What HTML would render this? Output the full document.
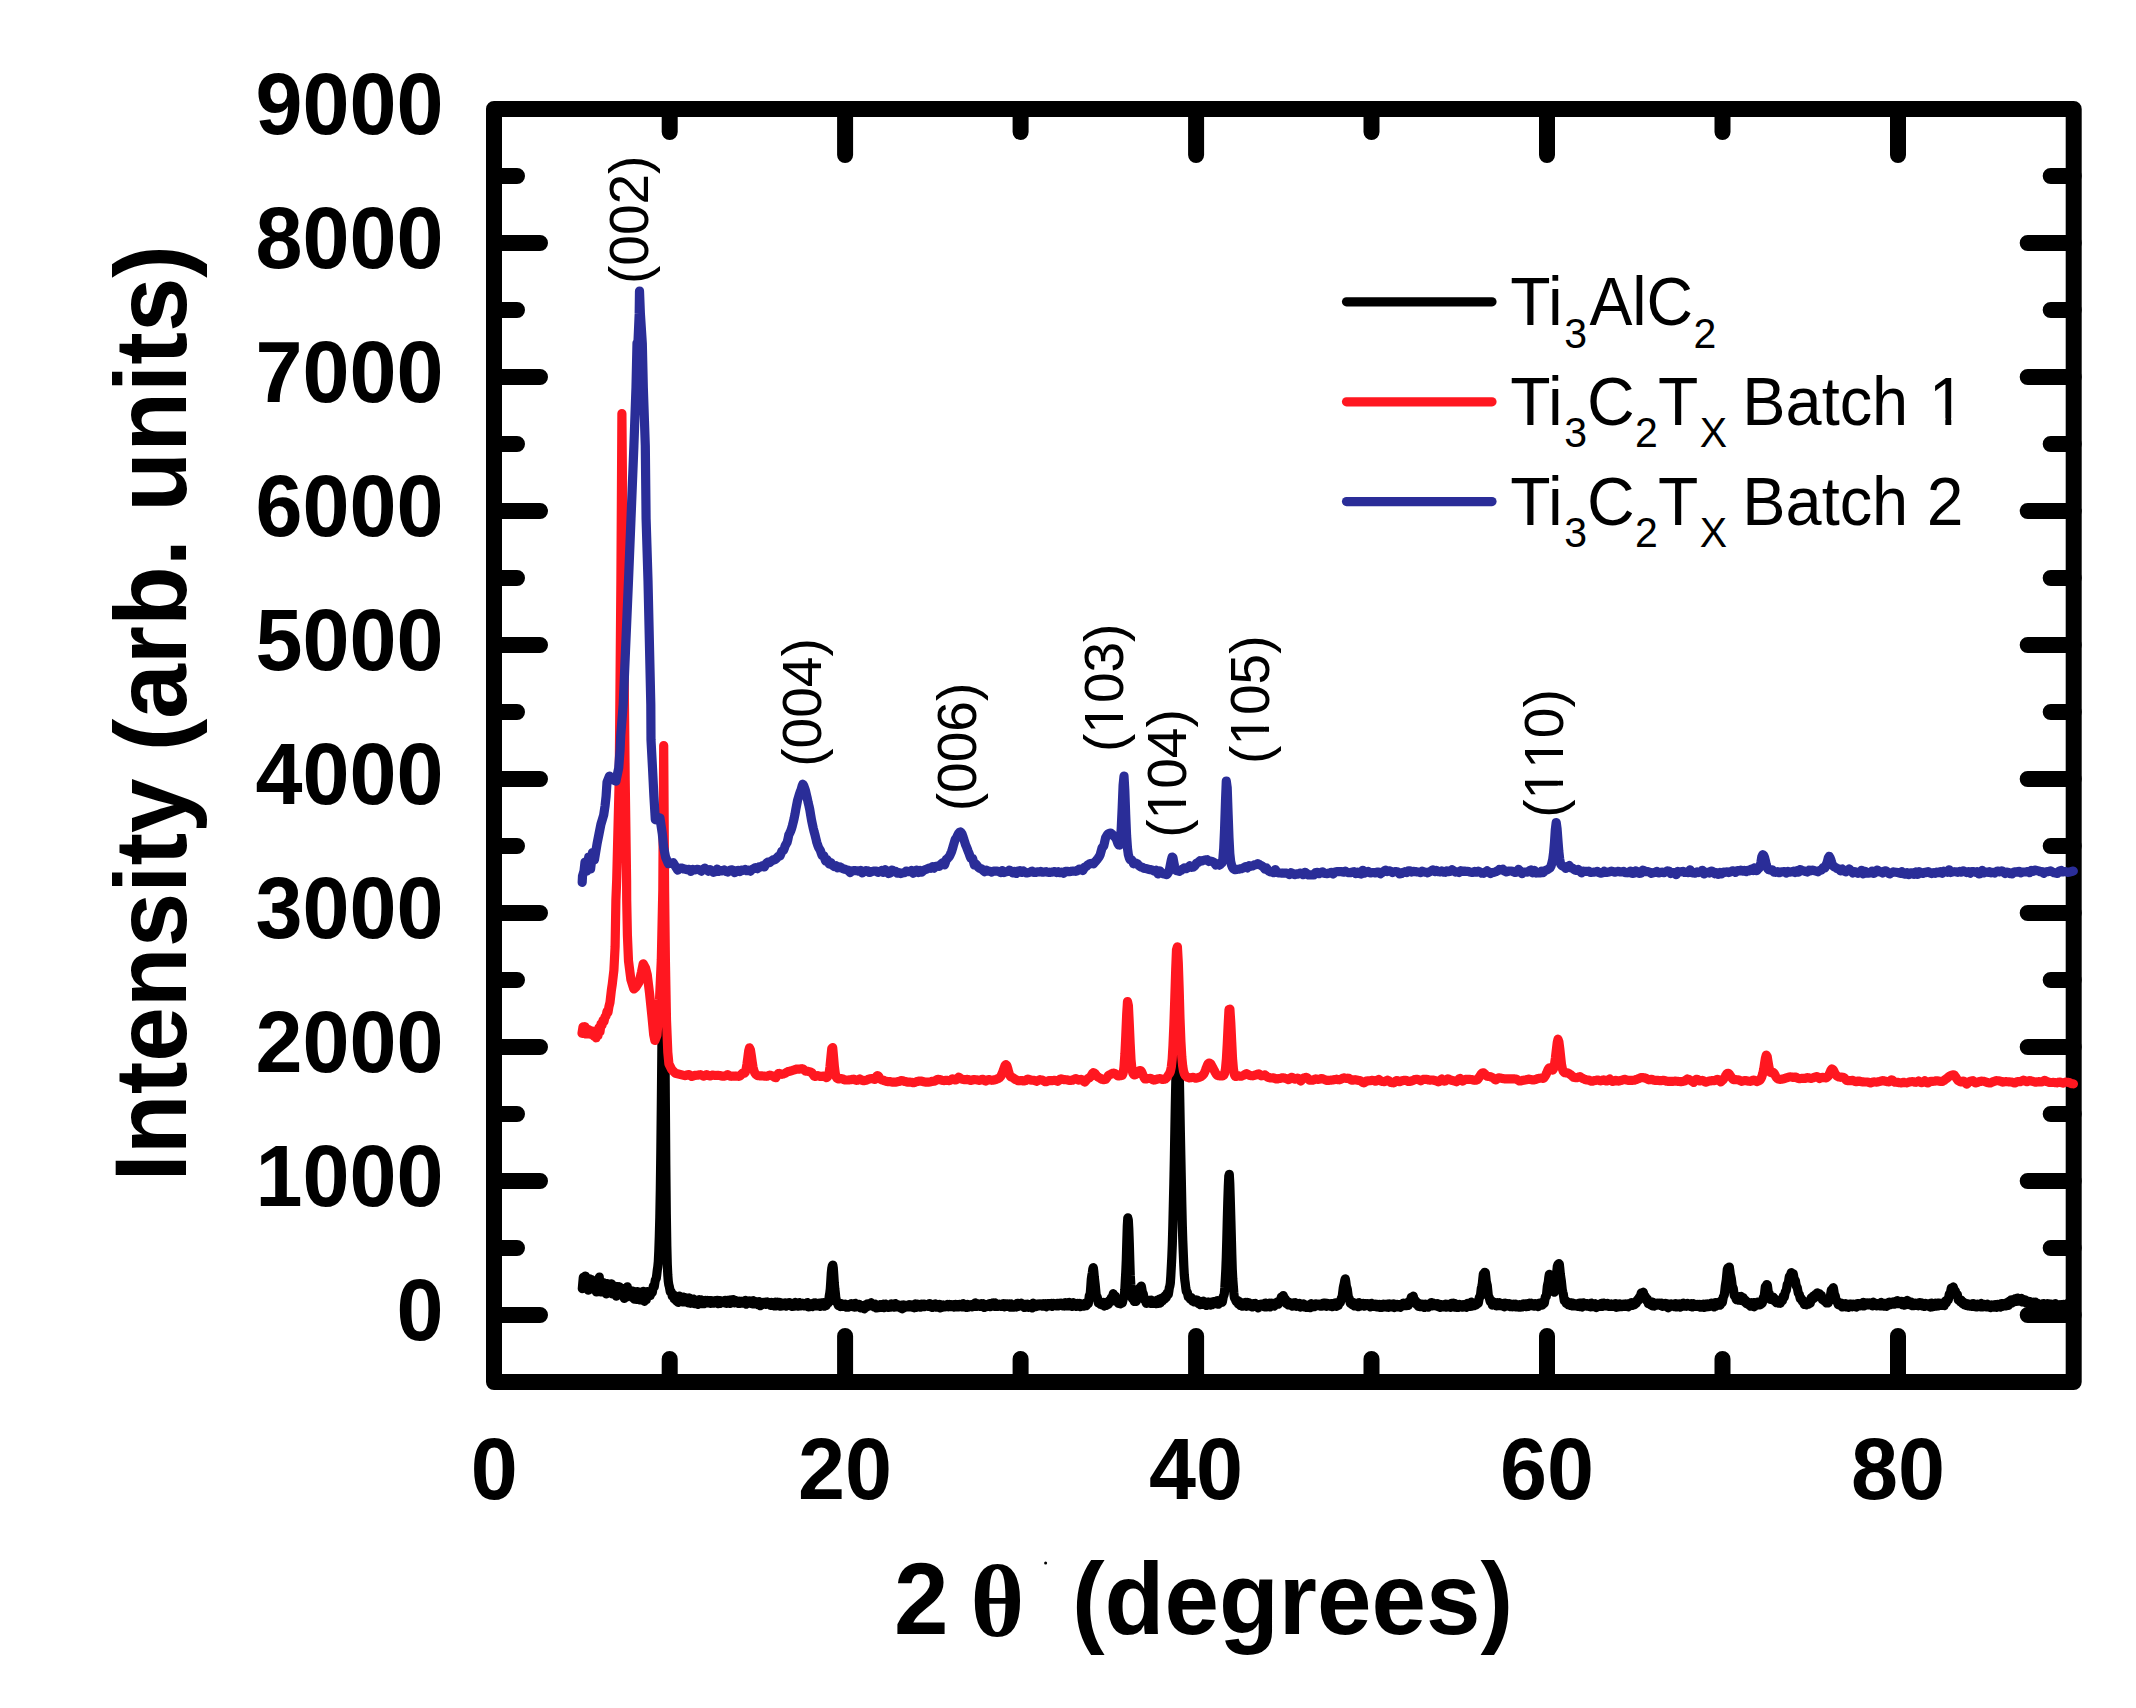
<!DOCTYPE html>
<html lang="en"><head><meta charset="utf-8"><title>XRD patterns</title>
<style>
html,body{margin:0;padding:0;background:#fff;}
body{width:2136px;height:1708px;overflow:hidden;}
svg{display:block;}
text{font-family:"Liberation Sans",Arial,Helvetica,sans-serif;fill:#000;}
.b{font-weight:bold;}
.tk{font-weight:bold;font-size:84.5px;}
.pk{font-size:55px;font-kerning:none;}
.lg{font-size:66px;}
.sub{font-size:41px;}
</style></head>
<body>
<svg width="2136" height="1708" viewBox="0 0 2136 1708">
<rect x="0" y="0" width="2136" height="1708" fill="#fff"/>
<!-- frame -->
<rect x="494" y="109" width="1579.7" height="1273" fill="none" stroke="#000" stroke-width="16" stroke-linejoin="round"/>
<!-- ticks -->
<path d="M669.7 1382 V1359 M669.7 109 V132 M845.1 1382 V1336 M845.1 109 V155 M1020.6 1382 V1359 M1020.6 109 V132 M1196.1 1382 V1336 M1196.1 109 V155 M1371.5 1382 V1359 M1371.5 109 V132 M1547.0 1382 V1336 M1547.0 109 V155 M1722.5 1382 V1359 M1722.5 109 V132 M1898.0 1382 V1336 M1898.0 109 V155 M494 1315.0 H540 M2073.7 1315.0 H2027.7 M494 1248.0 H517 M2073.7 1248.0 H2050.7 M494 1181.0 H540 M2073.7 1181.0 H2027.7 M494 1114.0 H517 M2073.7 1114.0 H2050.7 M494 1047.0 H540 M2073.7 1047.0 H2027.7 M494 980.0 H517 M2073.7 980.0 H2050.7 M494 913.0 H540 M2073.7 913.0 H2027.7 M494 846.0 H517 M2073.7 846.0 H2050.7 M494 779.0 H540 M2073.7 779.0 H2027.7 M494 712.0 H517 M2073.7 712.0 H2050.7 M494 645.0 H540 M2073.7 645.0 H2027.7 M494 578.0 H517 M2073.7 578.0 H2050.7 M494 511.0 H540 M2073.7 511.0 H2027.7 M494 444.0 H517 M2073.7 444.0 H2050.7 M494 377.0 H540 M2073.7 377.0 H2027.7 M494 310.0 H517 M2073.7 310.0 H2050.7 M494 243.0 H540 M2073.7 243.0 H2027.7 M494 176.0 H517 M2073.7 176.0 H2050.7" fill="none" stroke="#000" stroke-width="16" stroke-linecap="round"/>
<!-- data curves -->
<g fill="none" stroke-linejoin="round" stroke-linecap="round">
<path d="M582.3 1288.6L582.8 1283.0L583.3 1277.4L583.8 1282.4L584.3 1287.5L584.8 1281.8L585.3 1276.0L585.8 1282.0L586.3 1287.9L586.8 1284.0L587.3 1280.1L587.8 1285.1L588.3 1290.2L588.8 1284.5L589.3 1278.8L589.8 1281.9L590.3 1285.0L590.8 1282.3L591.3 1279.5L591.8 1284.2L592.3 1288.8L592.8 1285.4L593.3 1282.1L593.8 1284.7L594.3 1287.3L594.8 1284.7L595.3 1282.1L595.8 1287.0L596.3 1291.9L596.8 1287.3L597.3 1282.7L597.8 1287.0L598.3 1291.4L598.8 1284.3L599.3 1277.2L599.8 1284.6L600.3 1291.9L600.8 1286.9L601.3 1281.8L601.8 1286.9L602.3 1291.9L602.8 1287.2L603.3 1282.5L603.8 1287.3L604.3 1292.1L604.8 1289.0L605.3 1285.8L605.8 1289.8L606.3 1293.9L606.8 1288.8L607.3 1283.7L607.8 1287.8L608.3 1291.9L608.8 1289.1L609.3 1286.4L609.8 1289.1L610.3 1291.8L610.8 1287.8L611.3 1283.8L611.8 1288.9L612.3 1293.9L612.8 1289.7L613.3 1285.5L613.8 1290.0L614.3 1294.5L614.8 1290.4L615.3 1286.3L615.8 1291.2L616.3 1296.1L616.8 1291.4L617.3 1286.7L617.8 1290.3L618.3 1293.9L618.8 1290.3L619.3 1286.7L619.8 1290.1L620.3 1293.4L620.8 1291.4L621.3 1289.3L621.8 1292.2L622.3 1295.1L622.8 1291.8L623.3 1288.6L623.8 1293.5L624.3 1298.4L624.8 1293.5L625.3 1288.6L625.8 1292.8L626.3 1297.0L626.8 1292.0L627.3 1286.9L627.8 1290.1L628.3 1293.3L628.8 1291.6L629.3 1290.0L629.8 1293.0L630.3 1296.1L630.8 1293.9L631.3 1291.7L631.8 1294.5L632.3 1297.4L632.8 1294.3L633.3 1291.2L633.8 1295.2L634.3 1299.1L634.8 1295.7L635.3 1292.3L635.8 1295.8L636.3 1299.4L636.8 1295.4L637.3 1291.5L637.8 1295.1L638.3 1298.6L638.8 1295.3L639.3 1292.0L639.8 1296.0L640.3 1300.0L640.8 1297.0L641.3 1293.9L641.8 1296.6L642.3 1299.2L642.8 1295.2L643.3 1291.3L643.8 1296.3L644.3 1301.3L644.8 1296.7L645.3 1292.3L645.8 1296.1L646.3 1299.7L646.8 1295.6L647.3 1291.7L647.8 1293.4L648.3 1295.0L648.8 1293.2L649.3 1291.5L649.8 1293.7L650.3 1295.6L650.8 1293.2L651.3 1290.9L651.8 1291.8L652.3 1292.4L652.8 1289.3L653.3 1286.2L653.8 1286.5L654.3 1286.5L654.8 1283.3L655.3 1280.1L655.8 1279.3L656.3 1278.2L656.8 1274.4L657.3 1270.0L657.8 1266.8L658.3 1261.6L658.8 1251.2L659.3 1236.6L659.8 1217.6L660.3 1190.4L660.8 1153.0L661.3 1107.0L661.8 1055.5L662.3 1002.5L662.8 955.1L663.3 923.5L663.8 917.2L664.3 953.1L664.8 1021.1L665.3 1096.9L665.8 1163.8L666.3 1213.6L666.8 1245.6L667.3 1264.3L667.8 1275.1L668.3 1281.4L668.8 1284.7L669.3 1286.5L669.8 1289.2L670.3 1291.9L670.8 1292.2L671.3 1292.1L671.8 1294.0L672.3 1296.1L672.8 1295.5L673.3 1294.6L673.8 1296.7L674.3 1299.0L674.8 1297.8L675.3 1296.4L675.8 1298.6L676.3 1300.8L676.8 1299.3L677.3 1297.9L677.8 1300.1L678.3 1302.4L678.8 1299.2L679.3 1296.0L679.8 1298.7L680.3 1301.3L680.8 1299.2L681.3 1297.2L681.8 1299.5L682.3 1301.8L682.8 1299.4L683.3 1297.1L683.8 1299.4L684.3 1301.8L684.8 1299.7L685.3 1297.6L685.8 1299.5L686.3 1301.5L686.8 1299.7L687.3 1298.0L687.8 1300.5L688.3 1303.0L688.8 1300.5L689.3 1297.9L689.8 1300.6L690.3 1303.3L690.8 1301.2L691.3 1299.0L691.8 1300.6L692.3 1302.2L692.8 1300.6L693.3 1299.0L693.8 1301.3L694.3 1303.6L694.8 1301.9L695.3 1300.1L695.8 1302.0L696.3 1303.9L696.8 1302.3L697.3 1300.8L697.8 1302.6L698.3 1304.4L698.8 1302.0L699.3 1299.7L699.8 1301.4L700.3 1303.0L700.8 1301.4L701.3 1299.8L701.8 1301.8L702.3 1303.7L702.8 1302.3L703.3 1300.8L703.8 1302.2L704.3 1303.6L704.8 1302.0L705.3 1300.4L705.8 1301.7L706.3 1302.9L706.8 1301.6L707.3 1300.4L707.8 1301.7L708.3 1303.0L708.8 1301.7L709.3 1300.5L709.8 1302.0L710.3 1303.4L710.8 1301.9L711.3 1300.5L711.8 1301.8L712.3 1303.1L712.8 1302.3L713.3 1301.5L713.8 1302.3L714.3 1303.1L714.8 1301.8L715.3 1300.6L715.8 1301.7L716.3 1302.8L716.8 1301.5L717.3 1300.3L717.8 1301.9L718.3 1303.6L718.8 1302.1L719.3 1300.6L719.8 1301.9L720.3 1303.3L720.8 1302.1L721.3 1300.8L721.8 1301.5L722.3 1302.2L722.8 1301.7L723.3 1301.2L723.8 1302.0L724.3 1302.8L724.8 1301.6L725.3 1300.3L725.8 1301.8L726.3 1303.3L726.8 1301.8L727.3 1300.3L727.8 1301.5L728.3 1302.8L728.8 1301.5L729.3 1300.1L729.8 1301.7L730.3 1303.4L730.8 1301.6L731.3 1299.8L731.8 1301.0L732.3 1302.1L732.8 1300.8L733.3 1299.5L733.8 1301.2L734.3 1302.8L734.8 1301.6L735.3 1300.3L735.8 1301.5L736.3 1302.7L736.8 1302.0L737.3 1301.3L737.8 1302.4L738.3 1303.4L738.8 1302.2L739.3 1301.1L739.8 1302.2L740.3 1303.3L740.8 1302.4L741.3 1301.4L741.8 1302.3L742.3 1303.2L742.8 1302.1L743.3 1301.0L743.8 1302.0L744.3 1303.0L744.8 1301.7L745.3 1300.4L745.8 1302.3L746.3 1304.2L746.8 1302.8L747.3 1301.5L747.8 1302.1L748.3 1302.8L748.8 1301.9L749.3 1300.9L749.8 1302.1L750.3 1303.3L750.8 1302.2L751.3 1301.1L751.8 1302.5L752.3 1303.9L752.8 1302.3L753.3 1300.7L753.8 1302.4L754.3 1304.0L754.8 1302.8L755.3 1301.5L755.8 1302.7L756.3 1304.0L756.8 1302.9L757.3 1301.8L757.8 1303.3L758.3 1304.8L758.8 1303.3L759.3 1301.7L759.8 1303.7L760.3 1305.7L760.8 1304.3L761.3 1303.0L761.8 1303.8L762.3 1304.5L762.8 1303.5L763.3 1302.4L763.8 1303.1L764.3 1303.8L764.8 1303.0L765.3 1302.2L765.8 1303.3L766.3 1304.4L766.8 1303.1L767.3 1301.9L767.8 1303.1L768.3 1304.4L768.8 1303.6L769.3 1302.8L769.8 1304.1L770.3 1305.3L770.8 1303.9L771.3 1302.4L771.8 1303.9L772.3 1305.4L772.8 1304.2L773.3 1303.0L773.8 1304.5L774.3 1306.0L774.8 1304.0L775.3 1302.1L775.8 1304.0L776.3 1305.9L776.8 1304.1L777.3 1302.2L777.8 1303.7L778.3 1305.1L778.8 1303.8L779.3 1302.4L779.8 1304.3L780.3 1306.2L780.8 1304.6L781.3 1302.9L781.8 1304.4L782.3 1305.9L782.8 1304.7L783.3 1303.5L783.8 1304.5L784.3 1305.5L784.8 1304.1L785.3 1302.8L785.8 1304.5L786.3 1306.1L786.8 1304.6L787.3 1303.0L787.8 1304.0L788.3 1305.0L788.8 1303.7L789.3 1302.5L789.8 1304.1L790.3 1305.7L790.8 1304.8L791.3 1304.0L791.8 1305.2L792.3 1306.5L792.8 1304.8L793.3 1303.2L793.8 1304.7L794.3 1306.2L794.8 1304.3L795.3 1302.4L795.8 1304.1L796.3 1305.8L796.8 1304.4L797.3 1303.1L797.8 1304.6L798.3 1306.2L798.8 1304.4L799.3 1302.5L799.8 1304.3L800.3 1306.0L800.8 1304.6L801.3 1303.2L801.8 1304.4L802.3 1305.6L802.8 1304.5L803.3 1303.4L803.8 1304.7L804.3 1306.0L804.8 1305.0L805.3 1303.9L805.8 1305.0L806.3 1306.0L806.8 1304.2L807.3 1302.5L807.8 1304.7L808.3 1306.9L808.8 1305.6L809.3 1304.3L809.8 1305.4L810.3 1306.6L810.8 1305.3L811.3 1304.0L811.8 1305.3L812.3 1306.6L812.8 1304.9L813.3 1303.2L813.8 1304.3L814.3 1305.4L814.8 1304.1L815.3 1302.8L815.8 1304.4L816.3 1306.0L816.8 1304.9L817.3 1303.8L817.8 1304.5L818.3 1305.2L818.8 1304.2L819.3 1303.2L819.8 1304.8L820.3 1306.4L820.8 1304.7L821.3 1302.9L821.8 1304.1L822.3 1305.3L822.8 1304.0L823.3 1302.6L823.8 1304.4L824.3 1306.2L824.8 1304.7L825.3 1303.1L825.8 1304.3L826.3 1305.5L826.8 1303.9L827.3 1302.2L827.8 1302.8L828.3 1303.0L828.8 1300.0L829.3 1295.9L829.8 1293.1L830.3 1288.9L830.8 1281.1L831.3 1272.9L831.8 1268.2L832.3 1266.0L832.8 1265.1L833.3 1268.0L833.8 1275.4L834.3 1283.3L834.8 1288.6L835.3 1292.7L835.8 1297.9L836.3 1301.9L836.8 1302.1L837.3 1301.7L837.8 1303.7L838.3 1305.5L838.8 1304.9L839.3 1304.2L839.8 1305.4L840.3 1306.6L840.8 1305.2L841.3 1303.7L841.8 1305.1L842.3 1306.5L842.8 1305.4L843.3 1304.3L843.8 1305.3L844.3 1306.3L844.8 1305.2L845.3 1304.2L845.8 1305.7L846.3 1307.2L846.8 1305.9L847.3 1304.6L847.8 1305.9L848.3 1307.2L848.8 1305.8L849.3 1304.4L849.8 1305.2L850.3 1306.0L850.8 1304.8L851.3 1303.7L851.8 1305.2L852.3 1306.6L852.8 1305.5L853.3 1304.4L853.8 1305.7L854.3 1307.1L854.8 1305.2L855.3 1303.3L855.8 1305.1L856.3 1306.9L856.8 1305.8L857.3 1304.7L857.8 1305.6L858.3 1306.5L858.8 1305.4L859.3 1304.4L859.8 1306.1L860.3 1307.8L860.8 1306.6L861.3 1305.3L861.8 1306.5L862.3 1307.8L862.8 1306.9L863.3 1305.9L863.8 1307.4L864.3 1308.8L864.8 1306.9L865.3 1304.9L865.8 1306.0L866.3 1307.2L866.8 1305.6L867.3 1303.9L867.8 1305.1L868.3 1306.2L868.8 1304.9L869.3 1303.6L869.8 1304.4L870.3 1305.2L870.8 1304.0L871.3 1302.7L871.8 1304.3L872.3 1306.0L872.8 1305.2L873.3 1304.5L873.8 1305.8L874.3 1307.2L874.8 1305.7L875.3 1304.2L875.8 1306.1L876.3 1308.0L876.8 1306.4L877.3 1304.9L877.8 1306.2L878.3 1307.6L878.8 1306.3L879.3 1304.9L879.8 1306.1L880.3 1307.3L880.8 1305.9L881.3 1304.5L881.8 1306.0L882.3 1307.5L882.8 1305.8L883.3 1304.2L883.8 1305.9L884.3 1307.6L884.8 1305.8L885.3 1304.0L885.8 1305.5L886.3 1307.1L886.8 1306.3L887.3 1305.4L887.8 1306.4L888.3 1307.4L888.8 1306.1L889.3 1304.8L889.8 1306.0L890.3 1307.2L890.8 1305.5L891.3 1303.8L891.8 1305.3L892.3 1306.8L892.8 1305.5L893.3 1304.3L893.8 1305.7L894.3 1307.2L894.8 1305.3L895.3 1303.5L895.8 1305.2L896.3 1306.9L896.8 1305.7L897.3 1304.5L897.8 1305.8L898.3 1307.2L898.8 1306.4L899.3 1305.7L899.8 1306.8L900.3 1307.8L900.8 1306.5L901.3 1305.2L901.8 1307.0L902.3 1308.9L902.8 1306.9L903.3 1304.9L903.8 1306.3L904.3 1307.6L904.8 1306.5L905.3 1305.4L905.8 1306.2L906.3 1307.0L906.8 1306.0L907.3 1305.0L907.8 1305.9L908.3 1306.8L908.8 1305.7L909.3 1304.6L909.8 1305.8L910.3 1307.0L910.8 1306.0L911.3 1304.9L911.8 1306.0L912.3 1307.1L912.8 1306.2L913.3 1305.2L913.8 1306.5L914.3 1307.8L914.8 1305.8L915.3 1303.9L915.8 1305.6L916.3 1307.3L916.8 1305.8L917.3 1304.2L917.8 1305.6L918.3 1307.0L918.8 1305.9L919.3 1304.9L919.8 1306.1L920.3 1307.2L920.8 1305.7L921.3 1304.1L921.8 1305.4L922.3 1306.6L922.8 1305.3L923.3 1304.1L923.8 1305.4L924.3 1306.7L924.8 1305.5L925.3 1304.4L925.8 1305.3L926.3 1306.2L926.8 1305.3L927.3 1304.4L927.8 1305.4L928.3 1306.4L928.8 1305.1L929.3 1303.7L929.8 1305.2L930.3 1306.7L930.8 1305.5L931.3 1304.2L931.8 1305.8L932.3 1307.5L932.8 1305.9L933.3 1304.4L933.8 1305.7L934.3 1306.9L934.8 1305.4L935.3 1303.9L935.8 1305.5L936.3 1307.2L936.8 1305.9L937.3 1304.6L937.8 1305.9L938.3 1307.3L938.8 1305.8L939.3 1304.4L939.8 1306.2L940.3 1307.9L940.8 1306.3L941.3 1304.8L941.8 1306.1L942.3 1307.3L942.8 1306.1L943.3 1304.9L943.8 1305.9L944.3 1307.0L944.8 1306.1L945.3 1305.1L945.8 1305.9L946.3 1306.7L946.8 1305.6L947.3 1304.4L947.8 1305.6L948.3 1306.8L948.8 1305.6L949.3 1304.4L949.8 1305.6L950.3 1306.7L950.8 1305.6L951.3 1304.6L951.8 1305.3L952.3 1306.0L952.8 1305.4L953.3 1304.8L953.8 1306.0L954.3 1307.1L954.8 1305.7L955.3 1304.4L955.8 1305.6L956.3 1306.8L956.8 1305.7L957.3 1304.7L957.8 1305.8L958.3 1307.0L958.8 1305.7L959.3 1304.4L959.8 1305.4L960.3 1306.5L960.8 1305.5L961.3 1304.5L961.8 1305.7L962.3 1307.0L962.8 1305.3L963.3 1303.6L963.8 1305.3L964.3 1307.0L964.8 1305.7L965.3 1304.3L965.8 1305.9L966.3 1307.5L966.8 1305.9L967.3 1304.3L967.8 1305.7L968.3 1307.2L968.8 1306.0L969.3 1304.8L969.8 1305.5L970.3 1306.3L970.8 1305.5L971.3 1304.7L971.8 1305.8L972.3 1306.8L972.8 1305.5L973.3 1304.2L973.8 1304.9L974.3 1305.7L974.8 1304.3L975.3 1302.9L975.8 1304.7L976.3 1306.5L976.8 1305.0L977.3 1303.5L977.8 1304.5L978.3 1305.6L978.8 1304.8L979.3 1304.1L979.8 1305.3L980.3 1306.5L980.8 1305.1L981.3 1303.7L981.8 1304.9L982.3 1306.2L982.8 1305.0L983.3 1303.7L983.8 1305.6L984.3 1307.5L984.8 1305.9L985.3 1304.3L985.8 1305.5L986.3 1306.8L986.8 1305.6L987.3 1304.5L987.8 1305.3L988.3 1306.1L988.8 1304.9L989.3 1303.6L989.8 1305.2L990.3 1306.7L990.8 1305.0L991.3 1303.4L991.8 1304.5L992.3 1305.6L992.8 1304.2L993.3 1302.8L993.8 1304.6L994.3 1306.3L994.8 1304.6L995.3 1302.9L995.8 1304.6L996.3 1306.3L996.8 1305.2L997.3 1304.1L997.8 1305.2L998.3 1306.3L998.8 1305.3L999.3 1304.2L999.8 1305.2L1000.3 1306.3L1000.8 1305.2L1001.3 1304.2L1001.8 1305.4L1002.3 1306.5L1002.8 1305.0L1003.3 1303.5L1003.8 1305.1L1004.3 1306.8L1004.8 1305.5L1005.3 1304.1L1005.8 1305.3L1006.3 1306.4L1006.8 1305.1L1007.3 1303.8L1007.8 1305.1L1008.3 1306.5L1008.8 1305.2L1009.3 1303.9L1009.8 1305.5L1010.3 1307.2L1010.8 1305.5L1011.3 1303.8L1011.8 1305.5L1012.3 1307.2L1012.8 1305.9L1013.3 1304.7L1013.8 1305.9L1014.3 1307.1L1014.8 1305.9L1015.3 1304.7L1015.8 1305.9L1016.3 1307.1L1016.8 1305.2L1017.3 1303.3L1017.8 1304.8L1018.3 1306.4L1018.8 1305.1L1019.3 1303.7L1019.8 1304.3L1020.3 1304.9L1020.8 1304.1L1021.3 1303.2L1021.8 1304.6L1022.3 1306.0L1022.8 1305.1L1023.3 1304.1L1023.8 1305.8L1024.3 1307.5L1024.8 1305.9L1025.3 1304.4L1025.8 1305.7L1026.3 1307.1L1026.8 1305.6L1027.3 1304.1L1027.8 1305.7L1028.3 1307.3L1028.8 1306.0L1029.3 1304.6L1029.8 1305.6L1030.3 1306.6L1030.8 1305.9L1031.3 1305.3L1031.8 1306.7L1032.3 1308.0L1032.8 1305.6L1033.3 1303.2L1033.8 1304.8L1034.3 1306.5L1034.8 1305.4L1035.3 1304.4L1035.8 1305.5L1036.3 1306.6L1036.8 1305.4L1037.3 1304.2L1037.8 1305.1L1038.3 1306.0L1038.8 1305.0L1039.3 1303.9L1039.8 1304.7L1040.3 1305.5L1040.8 1304.8L1041.3 1304.0L1041.8 1305.1L1042.3 1306.2L1042.8 1304.9L1043.3 1303.7L1043.8 1304.5L1044.3 1305.4L1044.8 1304.5L1045.3 1303.6L1045.8 1305.2L1046.3 1306.8L1046.8 1305.1L1047.3 1303.5L1047.8 1304.7L1048.3 1305.9L1048.8 1304.9L1049.3 1303.9L1049.8 1304.9L1050.3 1305.9L1050.8 1304.7L1051.3 1303.4L1051.8 1305.0L1052.3 1306.5L1052.8 1304.9L1053.3 1303.4L1053.8 1304.5L1054.3 1305.6L1054.8 1304.8L1055.3 1304.1L1055.8 1305.0L1056.3 1305.9L1056.8 1304.6L1057.3 1303.3L1057.8 1304.6L1058.3 1306.0L1058.8 1304.6L1059.3 1303.3L1059.8 1304.3L1060.3 1305.4L1060.8 1304.2L1061.3 1303.1L1061.8 1304.4L1062.3 1305.8L1062.8 1304.7L1063.3 1303.6L1063.8 1304.9L1064.3 1306.1L1064.8 1304.3L1065.3 1302.6L1065.8 1304.3L1066.3 1306.0L1066.8 1304.4L1067.3 1302.9L1067.8 1304.4L1068.3 1305.9L1068.8 1304.2L1069.3 1302.4L1069.8 1304.1L1070.3 1305.9L1070.8 1304.4L1071.3 1303.0L1071.8 1304.7L1072.3 1306.4L1072.8 1304.6L1073.3 1302.7L1073.8 1304.4L1074.3 1306.0L1074.8 1304.8L1075.3 1303.5L1075.8 1305.0L1076.3 1306.5L1076.8 1304.9L1077.3 1303.4L1077.8 1304.7L1078.3 1306.1L1078.8 1304.8L1079.3 1303.4L1079.8 1305.1L1080.3 1306.7L1080.8 1305.2L1081.3 1303.8L1081.8 1304.9L1082.3 1306.1L1082.8 1305.0L1083.3 1303.9L1083.8 1305.0L1084.3 1306.1L1084.8 1304.7L1085.3 1303.2L1085.8 1304.5L1086.3 1305.7L1086.8 1304.1L1087.3 1302.4L1087.8 1303.2L1088.3 1303.6L1088.8 1300.0L1089.3 1295.7L1089.8 1294.9L1090.3 1293.1L1090.8 1286.4L1091.3 1279.1L1091.8 1275.7L1092.3 1273.1L1092.8 1269.0L1093.3 1267.6L1093.8 1271.5L1094.3 1277.1L1094.8 1281.4L1095.3 1285.6L1095.8 1291.2L1096.3 1295.9L1096.8 1297.0L1097.3 1297.3L1097.8 1300.3L1098.3 1302.9L1098.8 1302.2L1099.3 1301.3L1099.8 1302.9L1100.3 1304.3L1100.8 1303.5L1101.3 1302.8L1101.8 1303.9L1102.3 1305.1L1102.8 1303.7L1103.3 1302.4L1103.8 1304.2L1104.3 1306.1L1104.8 1304.3L1105.3 1302.5L1105.8 1304.0L1106.3 1305.4L1106.8 1304.1L1107.3 1302.8L1107.8 1303.5L1108.3 1304.2L1108.8 1302.4L1109.3 1300.5L1109.8 1301.3L1110.3 1301.9L1110.8 1299.8L1111.3 1297.7L1111.8 1298.0L1112.3 1298.3L1112.8 1295.9L1113.3 1293.7L1113.8 1295.6L1114.3 1297.9L1114.8 1296.8L1115.3 1295.9L1115.8 1298.7L1116.3 1301.4L1116.8 1300.4L1117.3 1299.4L1117.8 1301.4L1118.3 1303.3L1118.8 1302.2L1119.3 1301.0L1119.8 1302.5L1120.3 1303.9L1120.8 1302.1L1121.3 1300.2L1121.8 1301.7L1122.3 1303.0L1122.8 1300.8L1123.3 1298.1L1123.8 1297.8L1124.3 1296.2L1124.8 1289.7L1125.3 1280.4L1125.8 1271.6L1126.3 1259.6L1126.8 1242.0L1127.3 1225.7L1127.8 1217.9L1128.3 1220.1L1128.8 1229.0L1129.3 1242.7L1129.8 1260.3L1130.3 1275.7L1130.8 1284.3L1131.3 1289.8L1131.8 1295.0L1132.3 1298.4L1132.8 1298.9L1133.3 1298.8L1133.8 1300.2L1134.3 1301.4L1134.8 1300.6L1135.3 1299.5L1135.8 1300.6L1136.3 1301.3L1136.8 1299.1L1137.3 1296.5L1137.8 1295.9L1138.3 1295.0L1138.8 1291.7L1139.3 1288.3L1139.8 1287.9L1140.3 1288.1L1140.8 1286.5L1141.3 1286.1L1141.8 1288.7L1142.3 1291.8L1142.8 1293.0L1143.3 1293.9L1143.8 1297.0L1144.3 1299.7L1144.8 1300.1L1145.3 1300.1L1145.8 1301.8L1146.3 1303.3L1146.8 1302.3L1147.3 1301.1L1147.8 1302.0L1148.3 1302.9L1148.8 1301.6L1149.3 1300.3L1149.8 1301.8L1150.3 1303.3L1150.8 1301.7L1151.3 1300.1L1151.8 1301.7L1152.3 1303.3L1152.8 1302.1L1153.3 1300.9L1153.8 1302.1L1154.3 1303.3L1154.8 1302.1L1155.3 1300.8L1155.8 1302.2L1156.3 1303.7L1156.8 1301.9L1157.3 1300.1L1157.8 1301.8L1158.3 1303.4L1158.8 1301.3L1159.3 1299.2L1159.8 1301.2L1160.3 1303.1L1160.8 1300.7L1161.3 1298.3L1161.8 1299.6L1162.3 1300.9L1162.8 1299.1L1163.3 1297.4L1163.8 1298.3L1164.3 1299.2L1164.8 1297.4L1165.3 1295.5L1165.8 1296.6L1166.3 1297.6L1166.8 1295.3L1167.3 1292.9L1167.8 1293.8L1168.3 1294.4L1168.8 1291.5L1169.3 1287.9L1169.8 1286.2L1170.3 1283.4L1170.8 1276.2L1171.3 1266.9L1171.8 1257.3L1172.3 1244.7L1172.8 1227.0L1173.3 1206.1L1173.8 1184.8L1174.3 1161.0L1174.8 1133.2L1175.3 1105.3L1175.8 1081.5L1176.3 1061.3L1176.8 1043.8L1177.3 1033.4L1177.8 1034.0L1178.3 1042.7L1178.8 1056.0L1179.3 1075.0L1179.8 1101.0L1180.3 1129.0L1180.8 1154.5L1181.3 1178.9L1181.8 1203.5L1182.3 1225.1L1182.8 1241.0L1183.3 1253.7L1183.8 1265.6L1184.3 1274.8L1184.8 1280.1L1185.3 1283.7L1185.8 1288.0L1186.3 1291.3L1186.8 1292.0L1187.3 1292.2L1187.8 1294.7L1188.3 1296.9L1188.8 1296.7L1189.3 1296.3L1189.8 1297.8L1190.3 1299.2L1190.8 1298.4L1191.3 1297.5L1191.8 1299.3L1192.3 1301.0L1192.8 1300.2L1193.3 1299.3L1193.8 1300.7L1194.3 1302.0L1194.8 1301.0L1195.3 1299.9L1195.8 1300.8L1196.3 1301.7L1196.8 1300.9L1197.3 1300.1L1197.8 1301.7L1198.3 1303.4L1198.8 1302.3L1199.3 1301.2L1199.8 1302.9L1200.3 1304.6L1200.8 1303.1L1201.3 1301.6L1201.8 1302.9L1202.3 1304.3L1202.8 1302.7L1203.3 1301.1L1203.8 1302.6L1204.3 1304.0L1204.8 1303.0L1205.3 1302.0L1205.8 1303.7L1206.3 1305.5L1206.8 1303.7L1207.3 1302.0L1207.8 1303.3L1208.3 1304.5L1208.8 1303.4L1209.3 1302.3L1209.8 1303.7L1210.3 1305.1L1210.8 1303.6L1211.3 1302.0L1211.8 1303.3L1212.3 1304.6L1212.8 1303.1L1213.3 1301.5L1213.8 1302.6L1214.3 1303.7L1214.8 1302.5L1215.3 1301.4L1215.8 1302.6L1216.3 1303.8L1216.8 1302.2L1217.3 1300.6L1217.8 1302.4L1218.3 1304.2L1218.8 1302.5L1219.3 1300.8L1219.8 1301.8L1220.3 1302.8L1220.8 1301.5L1221.3 1300.2L1221.8 1301.3L1222.3 1302.2L1222.8 1299.5L1223.3 1296.4L1223.8 1295.7L1224.3 1293.8L1224.8 1287.8L1225.3 1279.2L1225.8 1269.9L1226.3 1257.2L1226.8 1239.2L1227.3 1219.2L1227.8 1201.5L1228.3 1186.7L1228.8 1176.0L1229.3 1174.4L1229.8 1183.7L1230.3 1200.0L1230.8 1217.5L1231.3 1235.4L1231.8 1254.0L1232.3 1269.6L1232.8 1279.2L1233.3 1285.7L1233.8 1292.4L1234.3 1297.3L1234.8 1298.6L1235.3 1299.0L1235.8 1300.5L1236.3 1301.6L1236.8 1301.0L1237.3 1300.3L1237.8 1302.1L1238.3 1303.9L1238.8 1302.7L1239.3 1301.5L1239.8 1303.5L1240.3 1305.5L1240.8 1304.0L1241.3 1302.6L1241.8 1304.4L1242.3 1306.2L1242.8 1304.8L1243.3 1303.4L1243.8 1304.3L1244.3 1305.2L1244.8 1303.8L1245.3 1302.4L1245.8 1304.4L1246.3 1306.3L1246.8 1304.4L1247.3 1302.4L1247.8 1304.1L1248.3 1305.9L1248.8 1304.4L1249.3 1302.8L1249.8 1304.5L1250.3 1306.2L1250.8 1304.9L1251.3 1303.7L1251.8 1305.3L1252.3 1307.0L1252.8 1305.3L1253.3 1303.6L1253.8 1304.9L1254.3 1306.3L1254.8 1304.8L1255.3 1303.3L1255.8 1305.0L1256.3 1306.7L1256.8 1305.5L1257.3 1304.3L1257.8 1306.1L1258.3 1307.9L1258.8 1306.5L1259.3 1305.1L1259.8 1305.8L1260.3 1306.4L1260.8 1305.2L1261.3 1304.0L1261.8 1305.0L1262.3 1306.1L1262.8 1305.1L1263.3 1304.1L1263.8 1305.4L1264.3 1306.8L1264.8 1304.9L1265.3 1303.0L1265.8 1305.0L1266.3 1307.0L1266.8 1305.4L1267.3 1303.8L1267.8 1304.9L1268.3 1306.0L1268.8 1304.5L1269.3 1303.1L1269.8 1305.0L1270.3 1307.0L1270.8 1305.0L1271.3 1303.1L1271.8 1304.2L1272.3 1305.4L1272.8 1304.3L1273.3 1303.3L1273.8 1304.7L1274.3 1306.1L1274.8 1304.6L1275.3 1303.2L1275.8 1303.9L1276.3 1304.5L1276.8 1303.2L1277.3 1301.9L1277.8 1303.1L1278.3 1304.2L1278.8 1302.6L1279.3 1300.8L1279.8 1301.6L1280.3 1302.2L1280.8 1299.7L1281.3 1297.2L1281.8 1297.7L1282.3 1298.5L1282.8 1296.7L1283.3 1295.5L1283.8 1297.2L1284.3 1299.2L1284.8 1299.1L1285.3 1298.9L1285.8 1301.3L1286.3 1303.5L1286.8 1302.4L1287.3 1301.3L1287.8 1303.2L1288.3 1305.0L1288.8 1303.9L1289.3 1302.8L1289.8 1304.0L1290.3 1305.3L1290.8 1304.2L1291.3 1303.2L1291.8 1304.6L1292.3 1306.1L1292.8 1304.5L1293.3 1302.9L1293.8 1304.4L1294.3 1305.8L1294.8 1304.2L1295.3 1302.6L1295.8 1304.5L1296.3 1306.4L1296.8 1305.1L1297.3 1303.9L1297.8 1305.0L1298.3 1306.1L1298.8 1304.7L1299.3 1303.4L1299.8 1305.3L1300.3 1307.1L1300.8 1305.7L1301.3 1304.4L1301.8 1305.5L1302.3 1306.6L1302.8 1305.3L1303.3 1303.9L1303.8 1305.4L1304.3 1307.0L1304.8 1306.1L1305.3 1305.2L1305.8 1306.4L1306.3 1307.5L1306.8 1306.4L1307.3 1305.3L1307.8 1306.4L1308.3 1307.5L1308.8 1306.3L1309.3 1305.0L1309.8 1306.4L1310.3 1307.7L1310.8 1305.7L1311.3 1303.7L1311.8 1305.3L1312.3 1306.8L1312.8 1305.6L1313.3 1304.3L1313.8 1305.5L1314.3 1306.7L1314.8 1305.3L1315.3 1303.9L1315.8 1304.6L1316.3 1305.2L1316.8 1304.7L1317.3 1304.1L1317.8 1304.9L1318.3 1305.6L1318.8 1305.0L1319.3 1304.4L1319.8 1305.3L1320.3 1306.2L1320.8 1305.0L1321.3 1303.8L1321.8 1304.9L1322.3 1306.1L1322.8 1304.6L1323.3 1303.0L1323.8 1304.5L1324.3 1306.0L1324.8 1304.6L1325.3 1303.2L1325.8 1304.7L1326.3 1306.3L1326.8 1304.8L1327.3 1303.3L1327.8 1304.5L1328.3 1305.6L1328.8 1304.8L1329.3 1303.9L1329.8 1305.1L1330.3 1306.2L1330.8 1304.9L1331.3 1303.5L1331.8 1305.0L1332.3 1306.6L1332.8 1305.0L1333.3 1303.4L1333.8 1304.8L1334.3 1306.1L1334.8 1304.5L1335.3 1302.8L1335.8 1304.6L1336.3 1306.3L1336.8 1304.5L1337.3 1302.7L1337.8 1304.1L1338.3 1305.5L1338.8 1303.7L1339.3 1301.8L1339.8 1302.3L1340.3 1302.5L1340.8 1300.6L1341.3 1298.4L1341.8 1297.4L1342.3 1295.9L1342.8 1291.9L1343.3 1287.6L1343.8 1285.2L1344.3 1283.1L1344.8 1280.3L1345.3 1278.9L1345.8 1281.8L1346.3 1285.9L1346.8 1287.5L1347.3 1289.3L1347.8 1293.1L1348.3 1296.6L1348.8 1298.0L1349.3 1298.8L1349.8 1301.2L1350.3 1303.2L1350.8 1302.8L1351.3 1302.2L1351.8 1303.6L1352.3 1304.8L1352.8 1303.6L1353.3 1302.4L1353.8 1304.2L1354.3 1305.9L1354.8 1304.6L1355.3 1303.4L1355.8 1304.8L1356.3 1306.2L1356.8 1304.7L1357.3 1303.2L1357.8 1304.9L1358.3 1306.7L1358.8 1304.7L1359.3 1302.7L1359.8 1304.5L1360.3 1306.2L1360.8 1304.9L1361.3 1303.6L1361.8 1304.5L1362.3 1305.4L1362.8 1304.3L1363.3 1303.3L1363.8 1304.7L1364.3 1306.2L1364.8 1304.9L1365.3 1303.6L1365.8 1304.6L1366.3 1305.7L1366.8 1304.6L1367.3 1303.5L1367.8 1304.5L1368.3 1305.6L1368.8 1304.7L1369.3 1303.9L1369.8 1305.4L1370.3 1306.9L1370.8 1305.1L1371.3 1303.3L1371.8 1304.6L1372.3 1306.0L1372.8 1305.0L1373.3 1304.0L1373.8 1305.2L1374.3 1306.4L1374.8 1305.3L1375.3 1304.2L1375.8 1305.5L1376.3 1306.9L1376.8 1305.6L1377.3 1304.3L1377.8 1305.7L1378.3 1307.1L1378.8 1305.7L1379.3 1304.4L1379.8 1305.9L1380.3 1307.5L1380.8 1306.2L1381.3 1304.9L1381.8 1306.1L1382.3 1307.3L1382.8 1305.7L1383.3 1304.1L1383.8 1305.6L1384.3 1307.0L1384.8 1305.7L1385.3 1304.4L1385.8 1305.8L1386.3 1307.2L1386.8 1305.7L1387.3 1304.2L1387.8 1305.7L1388.3 1307.3L1388.8 1305.5L1389.3 1303.8L1389.8 1305.3L1390.3 1306.9L1390.8 1305.8L1391.3 1304.6L1391.8 1305.8L1392.3 1307.0L1392.8 1305.4L1393.3 1303.9L1393.8 1305.7L1394.3 1307.6L1394.8 1306.0L1395.3 1304.4L1395.8 1305.5L1396.3 1306.7L1396.8 1305.5L1397.3 1304.4L1397.8 1305.7L1398.3 1307.0L1398.8 1305.8L1399.3 1304.6L1399.8 1306.0L1400.3 1307.4L1400.8 1305.8L1401.3 1304.3L1401.8 1305.1L1402.3 1305.9L1402.8 1304.5L1403.3 1303.1L1403.8 1304.3L1404.3 1305.6L1404.8 1304.3L1405.3 1303.0L1405.8 1304.4L1406.3 1305.7L1406.8 1304.2L1407.3 1302.6L1407.8 1304.1L1408.3 1305.4L1408.8 1303.3L1409.3 1301.0L1409.8 1302.0L1410.3 1302.8L1410.8 1300.1L1411.3 1297.3L1411.8 1297.9L1412.3 1298.8L1412.8 1297.2L1413.3 1296.2L1413.8 1298.4L1414.3 1300.9L1414.8 1300.6L1415.3 1300.4L1415.8 1302.4L1416.3 1304.2L1416.8 1303.4L1417.3 1302.4L1417.8 1304.4L1418.3 1306.3L1418.8 1305.0L1419.3 1303.7L1419.8 1305.2L1420.3 1306.7L1420.8 1305.4L1421.3 1304.1L1421.8 1305.3L1422.3 1306.4L1422.8 1305.3L1423.3 1304.3L1423.8 1305.9L1424.3 1307.5L1424.8 1305.8L1425.3 1304.1L1425.8 1305.2L1426.3 1306.4L1426.8 1305.6L1427.3 1304.9L1427.8 1306.0L1428.3 1307.2L1428.8 1305.5L1429.3 1303.8L1429.8 1304.9L1430.3 1306.1L1430.8 1304.4L1431.3 1302.6L1431.8 1304.2L1432.3 1305.8L1432.8 1304.4L1433.3 1303.0L1433.8 1304.2L1434.3 1305.5L1434.8 1304.8L1435.3 1304.1L1435.8 1305.1L1436.3 1306.0L1436.8 1304.8L1437.3 1303.6L1437.8 1305.2L1438.3 1306.7L1438.8 1305.5L1439.3 1304.2L1439.8 1305.8L1440.3 1307.4L1440.8 1306.0L1441.3 1304.5L1441.8 1305.8L1442.3 1307.0L1442.8 1306.2L1443.3 1305.4L1443.8 1306.1L1444.3 1306.8L1444.8 1305.4L1445.3 1304.1L1445.8 1305.6L1446.3 1307.1L1446.8 1305.7L1447.3 1304.3L1447.8 1305.4L1448.3 1306.5L1448.8 1305.5L1449.3 1304.5L1449.8 1305.9L1450.3 1307.3L1450.8 1305.4L1451.3 1303.4L1451.8 1304.8L1452.3 1306.3L1452.8 1304.7L1453.3 1303.1L1453.8 1305.1L1454.3 1307.1L1454.8 1305.4L1455.3 1303.7L1455.8 1305.5L1456.3 1307.3L1456.8 1306.0L1457.3 1304.7L1457.8 1306.0L1458.3 1307.4L1458.8 1305.9L1459.3 1304.4L1459.8 1305.2L1460.3 1306.0L1460.8 1305.5L1461.3 1305.0L1461.8 1306.1L1462.3 1307.1L1462.8 1305.8L1463.3 1304.6L1463.8 1305.8L1464.3 1307.0L1464.8 1305.8L1465.3 1304.5L1465.8 1305.9L1466.3 1307.3L1466.8 1305.3L1467.3 1303.4L1467.8 1304.7L1468.3 1306.0L1468.8 1304.9L1469.3 1303.7L1469.8 1305.1L1470.3 1306.5L1470.8 1304.3L1471.3 1302.1L1471.8 1304.1L1472.3 1306.1L1472.8 1304.6L1473.3 1303.0L1473.8 1304.4L1474.3 1305.7L1474.8 1304.5L1475.3 1303.4L1475.8 1304.1L1476.3 1304.8L1476.8 1303.3L1477.3 1301.7L1477.8 1302.6L1478.3 1303.3L1478.8 1300.5L1479.3 1297.4L1479.8 1297.1L1480.3 1296.5L1480.8 1292.7L1481.3 1288.4L1481.8 1286.3L1482.3 1283.9L1482.8 1279.0L1483.3 1274.4L1483.8 1273.4L1484.3 1273.6L1484.8 1272.3L1485.3 1272.5L1485.8 1276.8L1486.3 1281.7L1486.8 1283.7L1487.3 1285.7L1487.8 1290.8L1488.3 1295.5L1488.8 1296.8L1489.3 1297.7L1489.8 1299.9L1490.3 1301.7L1490.8 1301.2L1491.3 1300.5L1491.8 1302.9L1492.3 1305.1L1492.8 1303.6L1493.3 1302.0L1493.8 1303.4L1494.3 1304.8L1494.8 1303.8L1495.3 1302.9L1495.8 1304.3L1496.3 1305.8L1496.8 1304.2L1497.3 1302.7L1497.8 1304.2L1498.3 1305.7L1498.8 1304.2L1499.3 1302.6L1499.8 1304.2L1500.3 1305.7L1500.8 1304.6L1501.3 1303.5L1501.8 1304.7L1502.3 1306.0L1502.8 1304.7L1503.3 1303.4L1503.8 1305.1L1504.3 1306.8L1504.8 1305.0L1505.3 1303.1L1505.8 1304.7L1506.3 1306.2L1506.8 1304.9L1507.3 1303.6L1507.8 1304.6L1508.3 1305.6L1508.8 1304.6L1509.3 1303.6L1509.8 1305.1L1510.3 1306.7L1510.8 1305.6L1511.3 1304.4L1511.8 1305.6L1512.3 1306.8L1512.8 1305.5L1513.3 1304.2L1513.8 1305.4L1514.3 1306.5L1514.8 1305.3L1515.3 1304.1L1515.8 1305.6L1516.3 1307.0L1516.8 1305.7L1517.3 1304.5L1517.8 1305.8L1518.3 1307.2L1518.8 1305.9L1519.3 1304.6L1519.8 1305.9L1520.3 1307.2L1520.8 1306.0L1521.3 1304.9L1521.8 1305.9L1522.3 1306.9L1522.8 1305.4L1523.3 1303.9L1523.8 1304.9L1524.3 1305.9L1524.8 1304.8L1525.3 1303.8L1525.8 1305.2L1526.3 1306.7L1526.8 1305.2L1527.3 1303.7L1527.8 1305.1L1528.3 1306.5L1528.8 1304.8L1529.3 1303.2L1529.8 1304.4L1530.3 1305.6L1530.8 1304.4L1531.3 1303.2L1531.8 1304.5L1532.3 1305.8L1532.8 1305.0L1533.3 1304.2L1533.8 1305.2L1534.3 1306.2L1534.8 1304.9L1535.3 1303.5L1535.8 1304.5L1536.3 1305.5L1536.8 1304.9L1537.3 1304.3L1537.8 1305.5L1538.3 1306.6L1538.8 1304.8L1539.3 1303.1L1539.8 1304.2L1540.3 1305.3L1540.8 1304.1L1541.3 1302.9L1541.8 1304.0L1542.3 1305.1L1542.8 1303.3L1543.3 1301.5L1543.8 1302.5L1544.3 1303.3L1544.8 1300.3L1545.3 1297.0L1545.8 1297.0L1546.3 1296.5L1546.8 1291.6L1547.3 1286.4L1547.8 1284.1L1548.3 1281.9L1548.8 1277.5L1549.3 1274.4L1549.8 1276.3L1550.3 1279.6L1550.8 1281.1L1551.3 1283.0L1551.8 1286.8L1552.3 1290.1L1552.8 1290.9L1553.3 1290.8L1553.8 1292.0L1554.3 1292.2L1554.8 1288.2L1555.3 1283.4L1555.8 1280.5L1556.3 1277.3L1556.8 1271.6L1557.3 1266.4L1557.8 1264.9L1558.3 1264.9L1558.8 1263.6L1559.3 1264.0L1559.8 1268.5L1560.3 1273.9L1560.8 1277.3L1561.3 1280.7L1561.8 1285.5L1562.3 1289.9L1562.8 1292.3L1563.3 1294.0L1563.8 1297.6L1564.3 1300.7L1564.8 1300.6L1565.3 1300.2L1565.8 1302.0L1566.3 1303.5L1566.8 1302.7L1567.3 1301.8L1567.8 1303.3L1568.3 1304.8L1568.8 1303.6L1569.3 1302.5L1569.8 1303.9L1570.3 1305.4L1570.8 1304.2L1571.3 1302.9L1571.8 1304.4L1572.3 1305.9L1572.8 1304.5L1573.3 1303.2L1573.8 1304.5L1574.3 1305.9L1574.8 1305.3L1575.3 1304.6L1575.8 1305.3L1576.3 1306.1L1576.8 1304.8L1577.3 1303.6L1577.8 1305.1L1578.3 1306.5L1578.8 1304.8L1579.3 1303.0L1579.8 1304.8L1580.3 1306.7L1580.8 1304.9L1581.3 1303.1L1581.8 1305.1L1582.3 1307.1L1582.8 1305.0L1583.3 1302.8L1583.8 1304.3L1584.3 1305.8L1584.8 1304.5L1585.3 1303.3L1585.8 1304.8L1586.3 1306.2L1586.8 1305.0L1587.3 1303.7L1587.8 1305.0L1588.3 1306.3L1588.8 1305.2L1589.3 1304.1L1589.8 1305.5L1590.3 1306.9L1590.8 1305.0L1591.3 1303.0L1591.8 1304.9L1592.3 1306.7L1592.8 1305.5L1593.3 1304.3L1593.8 1305.3L1594.3 1306.3L1594.8 1305.0L1595.3 1303.7L1595.8 1305.7L1596.3 1307.6L1596.8 1306.1L1597.3 1304.6L1597.8 1305.1L1598.3 1305.5L1598.8 1305.0L1599.3 1304.4L1599.8 1305.4L1600.3 1306.4L1600.8 1304.9L1601.3 1303.4L1601.8 1304.9L1602.3 1306.3L1602.8 1304.7L1603.3 1303.0L1603.8 1304.5L1604.3 1306.0L1604.8 1305.0L1605.3 1303.9L1605.8 1304.9L1606.3 1306.0L1606.8 1304.7L1607.3 1303.4L1607.8 1304.9L1608.3 1306.3L1608.8 1305.4L1609.3 1304.4L1609.8 1305.3L1610.3 1306.3L1610.8 1305.1L1611.3 1303.9L1611.8 1305.2L1612.3 1306.4L1612.8 1305.4L1613.3 1304.3L1613.8 1305.4L1614.3 1306.5L1614.8 1305.1L1615.3 1303.6L1615.8 1305.5L1616.3 1307.4L1616.8 1305.7L1617.3 1304.0L1617.8 1305.5L1618.3 1307.0L1618.8 1305.4L1619.3 1303.8L1619.8 1305.3L1620.3 1306.7L1620.8 1305.5L1621.3 1304.3L1621.8 1305.5L1622.3 1306.6L1622.8 1305.4L1623.3 1304.2L1623.8 1305.4L1624.3 1306.5L1624.8 1305.2L1625.3 1303.8L1625.8 1305.1L1626.3 1306.3L1626.8 1305.1L1627.3 1303.9L1627.8 1305.3L1628.3 1306.8L1628.8 1305.1L1629.3 1303.5L1629.8 1304.5L1630.3 1305.5L1630.8 1304.1L1631.3 1302.7L1631.8 1304.1L1632.3 1305.4L1632.8 1304.0L1633.3 1302.7L1633.8 1303.7L1634.3 1304.8L1634.8 1303.3L1635.3 1301.8L1635.8 1302.6L1636.3 1303.3L1636.8 1301.8L1637.3 1300.1L1637.8 1300.2L1638.3 1300.3L1638.8 1298.8L1639.3 1297.2L1639.8 1297.1L1640.3 1297.0L1640.8 1294.9L1641.3 1292.9L1641.8 1293.8L1642.3 1295.0L1642.8 1293.4L1643.3 1292.2L1643.8 1294.1L1644.3 1296.1L1644.8 1296.1L1645.3 1296.2L1645.8 1298.2L1646.3 1300.3L1646.8 1299.6L1647.3 1298.8L1647.8 1301.2L1648.3 1303.6L1648.8 1302.6L1649.3 1301.6L1649.8 1303.2L1650.3 1304.7L1650.8 1303.3L1651.3 1301.9L1651.8 1303.9L1652.3 1305.8L1652.8 1304.1L1653.3 1302.4L1653.8 1304.3L1654.3 1306.1L1654.8 1304.9L1655.3 1303.8L1655.8 1304.5L1656.3 1305.2L1656.8 1304.1L1657.3 1303.0L1657.8 1304.0L1658.3 1305.0L1658.8 1304.1L1659.3 1303.2L1659.8 1304.3L1660.3 1305.4L1660.8 1304.2L1661.3 1303.0L1661.8 1304.7L1662.3 1306.3L1662.8 1305.1L1663.3 1303.9L1663.8 1305.0L1664.3 1306.2L1664.8 1304.8L1665.3 1303.4L1665.8 1304.7L1666.3 1306.1L1666.8 1304.9L1667.3 1303.8L1667.8 1305.8L1668.3 1307.8L1668.8 1306.2L1669.3 1304.5L1669.8 1305.3L1670.3 1306.1L1670.8 1305.0L1671.3 1303.9L1671.8 1305.0L1672.3 1306.2L1672.8 1305.5L1673.3 1304.8L1673.8 1305.7L1674.3 1306.7L1674.8 1305.2L1675.3 1303.7L1675.8 1305.3L1676.3 1307.0L1676.8 1305.5L1677.3 1304.1L1677.8 1305.3L1678.3 1306.6L1678.8 1305.2L1679.3 1303.8L1679.8 1305.5L1680.3 1307.1L1680.8 1305.4L1681.3 1303.8L1681.8 1305.0L1682.3 1306.3L1682.8 1304.7L1683.3 1303.1L1683.8 1304.6L1684.3 1306.2L1684.8 1305.1L1685.3 1304.1L1685.8 1305.2L1686.3 1306.3L1686.8 1304.8L1687.3 1303.4L1687.8 1304.7L1688.3 1305.9L1688.8 1305.2L1689.3 1304.4L1689.8 1305.5L1690.3 1306.5L1690.8 1305.1L1691.3 1303.6L1691.8 1305.3L1692.3 1307.0L1692.8 1305.3L1693.3 1303.6L1693.8 1305.0L1694.3 1306.3L1694.8 1305.4L1695.3 1304.5L1695.8 1305.4L1696.3 1306.3L1696.8 1305.3L1697.3 1304.3L1697.8 1305.4L1698.3 1306.6L1698.8 1305.4L1699.3 1304.3L1699.8 1305.7L1700.3 1307.2L1700.8 1306.0L1701.3 1304.9L1701.8 1306.0L1702.3 1307.1L1702.8 1305.7L1703.3 1304.2L1703.8 1305.8L1704.3 1307.4L1704.8 1305.8L1705.3 1304.1L1705.8 1305.6L1706.3 1307.0L1706.8 1305.5L1707.3 1303.9L1707.8 1305.3L1708.3 1306.6L1708.8 1305.3L1709.3 1304.0L1709.8 1305.1L1710.3 1306.3L1710.8 1304.7L1711.3 1303.1L1711.8 1304.6L1712.3 1306.1L1712.8 1304.6L1713.3 1303.0L1713.8 1305.0L1714.3 1307.0L1714.8 1304.8L1715.3 1302.5L1715.8 1304.2L1716.3 1306.0L1716.8 1304.6L1717.3 1303.3L1717.8 1304.3L1718.3 1305.2L1718.8 1303.7L1719.3 1302.2L1719.8 1303.6L1720.3 1305.1L1720.8 1302.9L1721.3 1300.6L1721.8 1301.8L1722.3 1302.7L1722.8 1300.0L1723.3 1296.9L1723.8 1296.2L1724.3 1294.9L1724.8 1290.7L1725.3 1286.1L1725.8 1283.1L1726.3 1279.9L1726.8 1274.5L1727.3 1269.5L1727.8 1268.2L1728.3 1268.3L1728.8 1267.2L1729.3 1267.0L1729.8 1270.4L1730.3 1274.4L1730.8 1276.4L1731.3 1278.6L1731.8 1282.6L1732.3 1286.5L1732.8 1287.6L1733.3 1288.5L1733.8 1292.3L1734.3 1295.7L1734.8 1296.1L1735.3 1296.2L1735.8 1298.1L1736.3 1299.6L1736.8 1298.9L1737.3 1298.0L1737.8 1299.1L1738.3 1300.1L1738.8 1298.3L1739.3 1296.5L1739.8 1298.4L1740.3 1300.4L1740.8 1298.3L1741.3 1296.4L1741.8 1298.2L1742.3 1300.1L1742.8 1298.9L1743.3 1297.8L1743.8 1299.8L1744.3 1301.7L1744.8 1300.8L1745.3 1299.9L1745.8 1301.8L1746.3 1303.6L1746.8 1302.7L1747.3 1301.8L1747.8 1303.3L1748.3 1304.7L1748.8 1303.9L1749.3 1303.1L1749.8 1304.6L1750.3 1306.1L1750.8 1304.4L1751.3 1302.7L1751.8 1304.2L1752.3 1305.7L1752.8 1304.1L1753.3 1302.5L1753.8 1304.6L1754.3 1306.8L1754.8 1305.1L1755.3 1303.4L1755.8 1304.1L1756.3 1304.8L1756.8 1303.5L1757.3 1302.2L1757.8 1303.6L1758.3 1305.0L1758.8 1303.5L1759.3 1302.1L1759.8 1303.5L1760.3 1304.8L1760.8 1303.3L1761.3 1301.6L1761.8 1302.5L1762.3 1303.2L1762.8 1300.7L1763.3 1297.8L1763.8 1297.0L1764.3 1295.7L1764.8 1291.4L1765.3 1286.9L1765.8 1285.8L1766.3 1285.8L1766.8 1284.6L1767.3 1284.8L1767.8 1288.4L1768.3 1292.4L1768.8 1293.3L1769.3 1293.7L1769.8 1296.9L1770.3 1299.4L1770.8 1298.3L1771.3 1296.8L1771.8 1298.0L1772.3 1299.2L1772.8 1298.0L1773.3 1297.0L1773.8 1298.8L1774.3 1300.8L1774.8 1299.9L1775.3 1299.1L1775.8 1300.9L1776.3 1302.6L1776.8 1302.0L1777.3 1301.3L1777.8 1302.2L1778.3 1303.1L1778.8 1301.9L1779.3 1300.6L1779.8 1302.0L1780.3 1303.3L1780.8 1301.8L1781.3 1300.1L1781.8 1300.6L1782.3 1300.9L1782.8 1298.6L1783.3 1296.1L1783.8 1296.7L1784.3 1297.2L1784.8 1294.7L1785.3 1292.0L1785.8 1291.2L1786.3 1290.2L1786.8 1287.2L1787.3 1284.2L1787.8 1283.7L1788.3 1283.3L1788.8 1279.9L1789.3 1276.6L1789.8 1276.1L1790.3 1275.8L1790.8 1274.0L1791.3 1272.6L1791.8 1273.8L1792.3 1275.4L1792.8 1274.5L1793.3 1273.9L1793.8 1276.9L1794.3 1280.0L1794.8 1280.2L1795.3 1280.4L1795.8 1283.2L1796.3 1285.9L1796.8 1286.9L1797.3 1287.9L1797.8 1290.5L1798.3 1293.0L1798.8 1293.8L1799.3 1294.5L1799.8 1296.7L1800.3 1298.7L1800.8 1298.7L1801.3 1298.6L1801.8 1300.0L1802.3 1301.3L1802.8 1301.1L1803.3 1300.8L1803.8 1302.6L1804.3 1304.4L1804.8 1303.2L1805.3 1302.0L1805.8 1303.4L1806.3 1304.8L1806.8 1303.4L1807.3 1301.9L1807.8 1303.1L1808.3 1304.2L1808.8 1302.7L1809.3 1301.1L1809.8 1302.1L1810.3 1303.1L1810.8 1300.4L1811.3 1297.7L1811.8 1298.7L1812.3 1299.6L1812.8 1297.8L1813.3 1296.0L1813.8 1297.0L1814.3 1298.1L1814.8 1296.3L1815.3 1294.5L1815.8 1295.1L1816.3 1295.8L1816.8 1294.3L1817.3 1292.9L1817.8 1294.3L1818.3 1295.9L1818.8 1294.7L1819.3 1293.7L1819.8 1295.1L1820.3 1296.7L1820.8 1296.0L1821.3 1295.4L1821.8 1297.4L1822.3 1299.5L1822.8 1299.1L1823.3 1298.7L1823.8 1299.9L1824.3 1301.1L1824.8 1300.4L1825.3 1299.7L1825.8 1301.4L1826.3 1303.0L1826.8 1301.5L1827.3 1299.9L1827.8 1301.5L1828.3 1302.9L1828.8 1300.5L1829.3 1297.8L1829.8 1297.5L1830.3 1296.9L1830.8 1293.5L1831.3 1290.1L1831.8 1289.7L1832.3 1290.1L1832.8 1288.4L1833.3 1287.7L1833.8 1290.6L1834.3 1293.8L1834.8 1295.0L1835.3 1296.1L1835.8 1298.8L1836.3 1301.1L1836.8 1301.4L1837.3 1301.4L1837.8 1303.2L1838.3 1304.7L1838.8 1303.6L1839.3 1302.4L1839.8 1304.0L1840.3 1305.5L1840.8 1304.3L1841.3 1303.0L1841.8 1305.0L1842.3 1307.0L1842.8 1305.8L1843.3 1304.6L1843.8 1305.6L1844.3 1306.5L1844.8 1305.1L1845.3 1303.7L1845.8 1305.3L1846.3 1307.0L1846.8 1305.8L1847.3 1304.6L1847.8 1306.0L1848.3 1307.4L1848.8 1305.7L1849.3 1304.0L1849.8 1305.1L1850.3 1306.2L1850.8 1305.2L1851.3 1304.2L1851.8 1305.5L1852.3 1306.8L1852.8 1305.4L1853.3 1304.0L1853.8 1305.0L1854.3 1306.0L1854.8 1305.2L1855.3 1304.4L1855.8 1305.8L1856.3 1307.2L1856.8 1305.3L1857.3 1303.5L1857.8 1304.7L1858.3 1305.9L1858.8 1304.8L1859.3 1303.7L1859.8 1304.8L1860.3 1305.9L1860.8 1304.8L1861.3 1303.6L1861.8 1304.7L1862.3 1305.8L1862.8 1304.1L1863.3 1302.4L1863.8 1304.1L1864.3 1305.8L1864.8 1304.3L1865.3 1302.9L1865.8 1303.8L1866.3 1304.8L1866.8 1303.9L1867.3 1302.9L1867.8 1303.9L1868.3 1304.9L1868.8 1303.9L1869.3 1302.8L1869.8 1303.8L1870.3 1304.8L1870.8 1303.9L1871.3 1302.9L1871.8 1304.4L1872.3 1305.8L1872.8 1304.0L1873.3 1302.1L1873.8 1303.7L1874.3 1305.4L1874.8 1304.2L1875.3 1303.1L1875.8 1304.5L1876.3 1305.9L1876.8 1304.8L1877.3 1303.7L1877.8 1304.7L1878.3 1305.7L1878.8 1304.7L1879.3 1303.7L1879.8 1304.8L1880.3 1305.9L1880.8 1304.1L1881.3 1302.4L1881.8 1304.1L1882.3 1305.8L1882.8 1304.4L1883.3 1303.0L1883.8 1304.5L1884.3 1306.1L1884.8 1304.9L1885.3 1303.6L1885.8 1305.0L1886.3 1306.4L1886.8 1304.7L1887.3 1302.9L1887.8 1304.1L1888.3 1305.3L1888.8 1303.7L1889.3 1302.1L1889.8 1303.4L1890.3 1304.7L1890.8 1303.6L1891.3 1302.5L1891.8 1303.3L1892.3 1304.0L1892.8 1302.9L1893.3 1301.8L1893.8 1303.0L1894.3 1304.2L1894.8 1303.0L1895.3 1301.9L1895.8 1302.8L1896.3 1303.6L1896.8 1302.2L1897.3 1300.7L1897.8 1302.2L1898.3 1303.7L1898.8 1302.9L1899.3 1302.1L1899.8 1302.8L1900.3 1303.5L1900.8 1302.4L1901.3 1301.3L1901.8 1303.0L1902.3 1304.7L1902.8 1303.4L1903.3 1302.1L1903.8 1303.6L1904.3 1305.1L1904.8 1303.2L1905.3 1301.3L1905.8 1303.0L1906.3 1304.7L1906.8 1302.6L1907.3 1300.4L1907.8 1302.2L1908.3 1304.0L1908.8 1303.0L1909.3 1302.0L1909.8 1303.5L1910.3 1305.0L1910.8 1303.6L1911.3 1302.2L1911.8 1303.9L1912.3 1305.6L1912.8 1304.4L1913.3 1303.2L1913.8 1304.4L1914.3 1305.6L1914.8 1304.3L1915.3 1303.0L1915.8 1304.2L1916.3 1305.4L1916.8 1304.3L1917.3 1303.1L1917.8 1304.5L1918.3 1305.8L1918.8 1304.2L1919.3 1302.6L1919.8 1303.9L1920.3 1305.1L1920.8 1304.0L1921.3 1302.8L1921.8 1304.3L1922.3 1305.9L1922.8 1305.0L1923.3 1304.1L1923.8 1305.3L1924.3 1306.5L1924.8 1304.9L1925.3 1303.4L1925.8 1304.7L1926.3 1306.0L1926.8 1305.1L1927.3 1304.1L1927.8 1305.2L1928.3 1306.2L1928.8 1304.8L1929.3 1303.5L1929.8 1305.3L1930.3 1307.1L1930.8 1305.1L1931.3 1303.0L1931.8 1305.0L1932.3 1306.9L1932.8 1305.9L1933.3 1304.9L1933.8 1305.6L1934.3 1306.3L1934.8 1304.7L1935.3 1303.1L1935.8 1304.6L1936.3 1306.1L1936.8 1304.6L1937.3 1303.0L1937.8 1304.5L1938.3 1306.0L1938.8 1304.6L1939.3 1303.2L1939.8 1304.3L1940.3 1305.4L1940.8 1304.5L1941.3 1303.6L1941.8 1304.5L1942.3 1305.5L1942.8 1304.2L1943.3 1303.0L1943.8 1304.3L1944.3 1305.6L1944.8 1303.3L1945.3 1301.0L1945.8 1302.1L1946.3 1303.0L1946.8 1301.3L1947.3 1299.4L1947.8 1299.7L1948.3 1299.8L1948.8 1297.0L1949.3 1294.1L1949.8 1293.7L1950.3 1293.3L1950.8 1290.6L1951.3 1288.1L1951.8 1288.6L1952.3 1289.6L1952.8 1288.1L1953.3 1286.9L1953.8 1289.1L1954.3 1291.5L1954.8 1291.2L1955.3 1291.0L1955.8 1293.2L1956.3 1295.5L1956.8 1294.9L1957.3 1294.4L1957.8 1297.2L1958.3 1300.0L1958.8 1299.6L1959.3 1299.1L1959.8 1300.5L1960.3 1301.8L1960.8 1301.0L1961.3 1300.0L1961.8 1301.7L1962.3 1303.4L1962.8 1302.7L1963.3 1302.0L1963.8 1303.4L1964.3 1304.8L1964.8 1303.9L1965.3 1303.0L1965.8 1304.3L1966.3 1305.5L1966.8 1304.5L1967.3 1303.6L1967.8 1304.8L1968.3 1306.0L1968.8 1305.1L1969.3 1304.1L1969.8 1305.1L1970.3 1306.2L1970.8 1305.1L1971.3 1304.0L1971.8 1305.2L1972.3 1306.4L1972.8 1305.1L1973.3 1303.7L1973.8 1305.2L1974.3 1306.6L1974.8 1306.1L1975.3 1305.5L1975.8 1306.2L1976.3 1306.9L1976.8 1305.6L1977.3 1304.2L1977.8 1305.4L1978.3 1306.6L1978.8 1305.4L1979.3 1304.2L1979.8 1305.6L1980.3 1306.9L1980.8 1305.2L1981.3 1303.4L1981.8 1305.2L1982.3 1307.0L1982.8 1305.6L1983.3 1304.1L1983.8 1305.3L1984.3 1306.6L1984.8 1305.8L1985.3 1305.0L1985.8 1306.0L1986.3 1306.9L1986.8 1305.5L1987.3 1304.0L1987.8 1305.5L1988.3 1306.9L1988.8 1305.9L1989.3 1304.9L1989.8 1306.3L1990.3 1307.6L1990.8 1306.2L1991.3 1304.8L1991.8 1306.0L1992.3 1307.1L1992.8 1306.1L1993.3 1305.1L1993.8 1306.1L1994.3 1307.1L1994.8 1305.8L1995.3 1304.5L1995.8 1306.0L1996.3 1307.4L1996.8 1305.8L1997.3 1304.3L1997.8 1305.5L1998.3 1306.6L1998.8 1305.5L1999.3 1304.4L1999.8 1305.7L2000.3 1307.1L2000.8 1305.3L2001.3 1303.5L2001.8 1305.0L2002.3 1306.5L2002.8 1305.1L2003.3 1303.7L2003.8 1304.9L2004.3 1306.0L2004.8 1304.8L2005.3 1303.5L2005.8 1304.7L2006.3 1305.8L2006.8 1304.1L2007.3 1302.4L2007.8 1303.8L2008.3 1305.3L2008.8 1303.3L2009.3 1301.2L2009.8 1302.5L2010.3 1303.8L2010.8 1301.8L2011.3 1299.8L2011.8 1301.4L2012.3 1302.9L2012.8 1301.3L2013.3 1299.6L2013.8 1300.7L2014.3 1301.7L2014.8 1300.1L2015.3 1298.6L2015.8 1299.9L2016.3 1301.3L2016.8 1299.7L2017.3 1298.0L2017.8 1299.5L2018.3 1301.1L2018.8 1300.1L2019.3 1299.1L2019.8 1300.0L2020.3 1301.0L2020.8 1299.7L2021.3 1298.4L2021.8 1300.2L2022.3 1301.9L2022.8 1300.7L2023.3 1299.6L2023.8 1300.9L2024.3 1302.2L2024.8 1301.0L2025.3 1299.9L2025.8 1301.4L2026.3 1303.0L2026.8 1301.9L2027.3 1300.9L2027.8 1302.4L2028.3 1303.8L2028.8 1302.5L2029.3 1301.3L2029.8 1302.9L2030.3 1304.5L2030.8 1303.9L2031.3 1303.3L2031.8 1304.0L2032.3 1304.7L2032.8 1303.5L2033.3 1302.2L2033.8 1303.2L2034.3 1304.2L2034.8 1303.1L2035.3 1302.0L2035.8 1303.6L2036.3 1305.1L2036.8 1304.1L2037.3 1303.1L2037.8 1304.3L2038.3 1305.5L2038.8 1304.8L2039.3 1304.1L2039.8 1305.9L2040.3 1307.7L2040.8 1306.1L2041.3 1304.5L2041.8 1306.2L2042.3 1307.8L2042.8 1305.7L2043.3 1303.5L2043.8 1305.5L2044.3 1307.5L2044.8 1305.7L2045.3 1304.0L2045.8 1305.5L2046.3 1306.9L2046.8 1305.3L2047.3 1303.7L2047.8 1305.0L2048.3 1306.4L2048.8 1305.1L2049.3 1303.9L2049.8 1304.9L2050.3 1306.0L2050.8 1305.0L2051.3 1304.0L2051.8 1305.4L2052.3 1306.8L2052.8 1305.7L2053.3 1304.5L2053.8 1305.5L2054.3 1306.5L2054.8 1305.1L2055.3 1303.7L2055.8 1305.2L2056.3 1306.6L2056.8 1305.8L2057.3 1305.0L2057.8 1306.5L2058.3 1308.0L2058.8 1306.5L2059.3 1304.9L2059.8 1305.9L2060.3 1306.8L2060.8 1305.7L2061.3 1304.5L2061.8 1306.0L2062.3 1307.4L2062.8 1305.9L2063.3 1304.4L2063.8 1305.5L2064.3 1306.5L2064.8 1305.5L2065.3 1304.6L2065.8 1305.9L2066.3 1307.3L2066.8 1305.4L2067.3 1303.6L2067.8 1305.2L2068.3 1306.8L2068.8 1305.6L2069.3 1304.4L2069.8 1305.1L2070.3 1305.9L2070.8 1304.8L2071.3 1303.7L2071.8 1305.3L2072.3 1306.8L2072.8 1305.6L2073.3 1304.4" stroke="#000" stroke-width="9.2"/>
<path d="M582.0 1033.3L583.0 1026.9L584.0 1033.0L585.0 1026.7L586.0 1034.0L587.0 1028.7L588.0 1033.9L589.0 1029.8L590.0 1034.2L591.0 1030.9L592.0 1033.9L593.0 1031.2L594.0 1036.1L595.0 1032.0L596.0 1037.8L597.0 1030.3L598.0 1035.4L599.0 1027.6L600.0 1031.6L601.0 1023.9L602.0 1025.3L603.0 1020.3L604.0 1021.5L605.0 1017.1L606.0 1016.1L607.0 1011.4L608.0 1012.3L609.0 1006.3L610.0 1002.3L611.4 990.0L612.3 984.0L613.9 970.3L615.1 946.8L615.9 900.0L616.7 880.0L619.2 780.0L620.9 580.0L621.9 413.6L623.3 580.0L625.2 780.0L626.6 880.0L626.7 900.0L627.4 935.1L628.5 960.9L630.9 979.6L633.8 989.0L636.0 987.0L639.1 982.0L641.5 972.0L643.2 963.8L645.5 968.0L647.3 975.0L649.6 993.7L652.0 1017.1L653.7 1034.7L654.9 1040.5L657.0 1035.0L659.5 1000.0L661.3 960.0L662.8 890.0L663.7 745.6L664.6 890.0L665.4 960.0L666.5 1020.0L667.8 1052.2L668.9 1063.9L671.9 1069.8L675.4 1073.3L684.8 1075.6L685.7 1075.5L686.5 1075.2L687.4 1074.8L688.3 1074.5L689.2 1074.7L690.0 1075.3L690.9 1075.9L691.8 1076.4L692.7 1076.1L693.5 1075.8L694.4 1075.5L695.3 1075.3L696.2 1075.3L697.0 1075.2L697.9 1075.1L698.8 1075.0L699.7 1074.8L700.5 1074.7L701.4 1075.1L702.3 1075.6L703.2 1076.1L704.0 1076.1L704.9 1075.6L705.8 1075.1L706.7 1074.6L707.5 1075.0L708.4 1075.5L709.3 1075.9L710.2 1075.9L711.0 1075.6L711.9 1075.3L712.8 1075.1L713.7 1075.2L714.5 1075.4L715.4 1075.5L716.3 1075.5L717.2 1075.4L718.0 1075.4L718.9 1075.4L719.8 1075.6L720.7 1075.8L721.5 1076.0L722.4 1076.1L723.3 1076.1L724.2 1076.1L725.0 1076.0L725.9 1075.5L726.8 1075.1L727.7 1074.6L728.5 1075.1L729.4 1075.7L730.3 1076.2L731.2 1076.3L732.0 1076.2L732.9 1076.1L733.8 1076.1L734.7 1076.1L735.5 1076.2L736.4 1076.2L737.3 1076.2L738.2 1076.3L739.0 1076.3L739.9 1076.1L740.8 1075.2L741.7 1074.2L742.5 1073.2L743.4 1073.3L744.3 1073.2L745.2 1072.4L746.0 1069.7L746.9 1064.4L747.8 1057.8L748.7 1050.9L749.5 1047.8L750.4 1049.8L751.3 1055.5L752.2 1061.8L753.0 1067.0L753.9 1070.6L754.8 1072.9L755.7 1074.2L756.5 1074.9L757.4 1075.5L758.3 1075.7L759.2 1075.8L760.0 1075.8L760.9 1075.9L761.8 1075.9L762.7 1076.0L763.5 1076.0L764.4 1076.1L765.3 1076.2L766.2 1076.3L767.0 1076.2L767.9 1075.8L768.8 1075.5L769.7 1075.1L770.5 1075.3L771.4 1075.6L772.3 1075.9L773.2 1076.3L774.0 1076.9L774.9 1077.4L775.8 1077.7L776.7 1076.3L777.5 1075.0L778.4 1073.6L779.3 1073.4L780.2 1073.8L781.0 1074.1L781.9 1074.3L782.8 1074.1L783.7 1073.8L784.5 1073.5L785.4 1073.1L786.3 1072.5L787.2 1072.0L788.0 1071.6L788.9 1071.4L789.8 1071.2L790.7 1071.0L791.5 1070.7L792.4 1070.5L793.3 1070.2L794.2 1069.9L795.0 1069.6L795.9 1069.3L796.8 1069.1L797.7 1069.1L798.5 1069.0L799.4 1069.1L800.3 1069.0L801.2 1068.8L802.0 1068.7L802.9 1068.9L803.8 1069.6L804.7 1070.3L805.5 1071.0L806.4 1071.2L807.3 1071.3L808.2 1071.4L809.0 1071.6L809.9 1071.9L810.8 1072.2L811.7 1072.5L812.5 1073.8L813.4 1075.0L814.3 1076.2L815.2 1076.5L816.0 1076.2L816.9 1075.9L817.8 1075.7L818.7 1076.0L819.5 1076.3L820.4 1076.5L821.3 1076.5L822.2 1076.3L823.0 1076.0L823.9 1076.0L824.8 1076.6L825.7 1077.2L826.5 1077.6L827.4 1077.0L828.3 1075.6L829.2 1072.5L830.0 1066.5L830.9 1057.3L831.8 1048.3L832.7 1047.6L833.5 1056.5L834.4 1066.7L835.3 1073.5L836.2 1076.9L837.0 1078.1L837.9 1078.7L838.8 1078.9L839.7 1078.9L840.5 1078.7L841.4 1078.5L842.3 1078.8L843.2 1079.2L844.0 1079.6L844.9 1079.9L845.8 1080.0L846.7 1080.0L847.5 1080.0L848.4 1080.0L849.3 1079.9L850.2 1079.8L851.0 1079.7L851.9 1079.5L852.8 1079.3L853.7 1079.2L854.5 1079.6L855.4 1080.0L856.3 1080.4L857.2 1080.3L858.0 1079.8L858.9 1079.4L859.8 1079.0L860.7 1079.5L861.5 1080.0L862.4 1080.5L863.3 1080.6L864.2 1080.6L865.0 1080.5L865.9 1080.3L866.8 1080.0L867.7 1079.6L868.5 1079.2L869.4 1079.0L870.3 1078.8L871.2 1078.5L872.0 1078.5L872.9 1078.8L873.8 1079.1L874.7 1079.4L875.5 1077.9L876.4 1076.6L877.3 1075.6L878.2 1075.9L879.0 1077.1L879.9 1078.3L880.8 1079.4L881.7 1079.8L882.5 1080.1L883.4 1080.3L884.3 1080.7L885.2 1081.0L886.0 1081.3L886.9 1081.5L887.8 1081.6L888.7 1081.6L889.5 1081.6L890.4 1081.8L891.3 1081.9L892.2 1082.1L893.0 1082.2L893.9 1082.2L894.8 1082.1L895.7 1082.1L896.5 1082.0L897.4 1081.8L898.3 1081.6L899.2 1081.4L900.0 1081.0L900.9 1080.7L901.8 1080.5L902.7 1080.8L903.5 1081.0L904.4 1081.3L905.3 1081.6L906.2 1081.8L907.0 1082.0L907.9 1082.2L908.8 1082.2L909.7 1082.2L910.5 1082.2L911.4 1082.3L912.3 1082.5L913.2 1082.7L914.0 1082.6L914.9 1082.3L915.8 1082.0L916.7 1081.7L917.5 1081.4L918.4 1081.2L919.3 1081.0L920.2 1081.0L921.0 1081.1L921.9 1081.3L922.8 1081.5L923.7 1081.7L924.5 1081.9L925.4 1082.1L926.3 1082.2L927.2 1082.2L928.0 1082.2L928.9 1082.1L929.8 1081.9L930.7 1081.7L931.5 1081.5L932.4 1081.3L933.3 1081.3L934.2 1081.2L935.0 1080.9L935.9 1080.3L936.8 1079.8L937.7 1079.3L938.5 1079.5L939.4 1079.6L940.3 1079.8L941.2 1080.0L942.0 1080.2L942.9 1080.4L943.8 1080.6L944.7 1080.5L945.5 1080.4L946.4 1080.3L947.3 1080.4L948.2 1080.5L949.0 1080.6L949.9 1080.5L950.8 1079.9L951.7 1079.4L952.5 1078.8L953.4 1079.1L954.3 1079.5L955.2 1080.0L956.0 1079.8L956.9 1079.0L957.8 1078.1L958.7 1077.2L959.5 1077.7L960.4 1078.3L961.3 1078.9L962.2 1079.2L963.0 1079.4L963.9 1079.5L964.8 1079.7L965.7 1079.6L966.5 1079.5L967.4 1079.4L968.3 1079.6L969.2 1079.9L970.0 1080.2L970.9 1080.4L971.8 1080.1L972.7 1079.9L973.5 1079.6L974.4 1079.7L975.3 1079.7L976.2 1079.8L977.0 1079.9L977.9 1080.1L978.8 1080.3L979.7 1080.5L980.5 1080.1L981.4 1079.7L982.3 1079.3L983.2 1079.5L984.0 1080.1L984.9 1080.7L985.8 1081.1L986.7 1080.6L987.5 1080.0L988.4 1079.5L989.3 1079.6L990.2 1079.9L991.0 1080.1L991.9 1080.3L992.8 1080.2L993.7 1080.0L994.5 1079.9L995.4 1079.6L996.3 1079.3L997.2 1078.9L998.0 1078.6L998.9 1078.2L999.8 1077.5L1000.7 1076.5L1001.5 1074.9L1002.4 1072.8L1003.3 1070.4L1004.2 1067.8L1005.0 1065.7L1005.9 1064.7L1006.8 1065.5L1007.7 1068.2L1008.5 1071.3L1009.4 1074.4L1010.3 1076.2L1011.2 1077.0L1012.0 1077.3L1012.9 1077.6L1013.8 1078.4L1014.7 1079.0L1015.5 1079.5L1016.4 1079.9L1017.3 1080.3L1018.2 1080.7L1019.0 1080.8L1019.9 1080.7L1020.8 1080.6L1021.7 1080.5L1022.5 1080.7L1023.4 1080.9L1024.3 1081.0L1025.2 1080.7L1026.0 1080.1L1026.9 1079.5L1027.8 1079.0L1028.7 1079.3L1029.5 1079.7L1030.4 1080.0L1031.3 1080.1L1032.2 1080.2L1033.0 1080.3L1033.9 1080.4L1034.8 1080.7L1035.7 1081.0L1036.5 1081.3L1037.4 1081.0L1038.3 1080.4L1039.2 1079.9L1040.0 1079.7L1040.9 1079.9L1041.8 1080.1L1042.7 1080.3L1043.5 1080.8L1044.4 1081.3L1045.3 1081.7L1046.2 1081.7L1047.0 1081.4L1047.9 1081.0L1048.8 1080.7L1049.7 1080.7L1050.5 1080.7L1051.4 1080.7L1052.3 1080.6L1053.2 1080.5L1054.0 1080.4L1054.9 1080.4L1055.8 1080.7L1056.7 1081.0L1057.5 1081.3L1058.4 1080.7L1059.3 1079.9L1060.2 1079.2L1061.0 1078.8L1061.9 1079.1L1062.8 1079.4L1063.7 1079.6L1064.5 1079.7L1065.4 1079.7L1066.3 1079.8L1067.2 1079.9L1068.0 1080.1L1068.9 1080.2L1069.8 1080.4L1070.7 1080.3L1071.5 1080.3L1072.4 1080.2L1073.3 1079.8L1074.2 1079.3L1075.0 1078.8L1075.9 1078.5L1076.8 1079.1L1077.7 1079.6L1078.5 1080.1L1079.4 1080.0L1080.3 1079.7L1081.2 1079.4L1082.0 1079.6L1082.9 1080.5L1083.8 1081.3L1084.7 1082.1L1085.5 1081.2L1086.4 1080.2L1087.3 1079.0L1088.2 1078.4L1089.0 1078.0L1089.9 1077.3L1090.8 1076.4L1091.7 1074.9L1092.5 1073.5L1093.4 1072.7L1094.3 1072.9L1095.2 1073.8L1096.0 1075.0L1096.9 1076.1L1097.8 1076.8L1098.7 1077.4L1099.5 1077.7L1100.4 1078.4L1101.3 1078.9L1102.2 1079.4L1103.0 1079.6L1103.9 1079.6L1104.8 1079.5L1105.7 1079.3L1106.5 1078.2L1107.4 1077.0L1108.3 1075.8L1109.2 1075.0L1110.0 1074.6L1110.9 1074.2L1111.8 1073.8L1112.7 1073.3L1113.5 1073.1L1114.4 1073.2L1115.3 1073.7L1116.2 1074.4L1117.0 1075.2L1117.9 1075.8L1118.8 1075.8L1119.7 1075.8L1120.5 1075.5L1121.4 1075.6L1122.3 1075.2L1123.2 1073.0L1124.0 1066.8L1124.9 1054.2L1125.8 1035.4L1126.7 1014.3L1127.5 1001.5L1128.4 1005.8L1129.3 1023.9L1130.2 1044.3L1131.0 1059.7L1131.9 1068.8L1132.8 1073.0L1133.7 1074.7L1134.5 1075.0L1135.4 1074.7L1136.3 1074.0L1137.2 1073.2L1138.0 1072.1L1138.9 1071.2L1139.8 1070.5L1140.7 1070.7L1141.5 1071.7L1142.4 1073.7L1143.3 1075.9L1144.2 1077.9L1145.0 1079.0L1145.9 1079.0L1146.8 1078.9L1147.7 1078.5L1148.5 1078.5L1149.4 1078.5L1150.3 1078.4L1151.2 1078.7L1152.0 1079.2L1152.9 1079.7L1153.8 1080.1L1154.7 1079.9L1155.5 1079.6L1156.4 1079.4L1157.3 1079.1L1158.2 1078.9L1159.0 1078.7L1159.9 1078.6L1160.8 1078.9L1161.7 1079.2L1162.5 1079.5L1163.4 1079.4L1164.3 1079.3L1165.2 1079.0L1166.0 1078.4L1166.9 1077.3L1167.8 1076.0L1168.7 1074.5L1169.5 1073.5L1170.4 1071.4L1171.3 1067.1L1172.2 1059.0L1173.0 1045.2L1173.9 1024.5L1174.8 998.1L1175.7 970.0L1176.5 949.8L1177.4 946.8L1178.3 963.1L1179.2 990.2L1180.0 1018.4L1180.9 1041.4L1181.8 1056.9L1182.7 1066.1L1183.5 1071.0L1184.4 1073.8L1185.3 1075.5L1186.2 1076.5L1187.0 1077.1L1187.9 1077.4L1188.8 1077.7L1189.7 1077.9L1190.5 1077.7L1191.4 1077.6L1192.3 1077.4L1193.2 1077.4L1194.0 1077.7L1194.9 1078.0L1195.8 1078.2L1196.7 1078.0L1197.5 1077.8L1198.4 1077.5L1199.3 1077.3L1200.2 1077.0L1201.0 1076.6L1201.9 1075.9L1202.8 1075.2L1203.7 1074.1L1204.5 1072.6L1205.4 1070.4L1206.3 1067.9L1207.2 1065.6L1208.0 1063.8L1208.9 1063.1L1209.8 1063.3L1210.7 1063.9L1211.5 1065.3L1212.4 1066.9L1213.3 1068.6L1214.2 1070.3L1215.0 1072.0L1215.9 1073.6L1216.8 1074.9L1217.7 1075.4L1218.5 1075.7L1219.4 1075.8L1220.3 1076.0L1221.2 1076.0L1222.0 1075.9L1222.9 1075.7L1223.8 1075.1L1224.7 1073.3L1225.5 1068.8L1226.4 1059.0L1227.3 1043.3L1228.2 1024.2L1229.0 1009.5L1229.9 1009.1L1230.8 1023.1L1231.7 1041.7L1232.5 1058.1L1233.4 1068.6L1234.3 1074.4L1235.2 1076.4L1236.0 1076.5L1236.9 1076.1L1237.8 1075.6L1238.7 1075.9L1239.5 1076.1L1240.4 1076.2L1241.3 1076.1L1242.2 1075.8L1243.0 1075.5L1243.9 1075.2L1244.8 1074.6L1245.7 1074.1L1246.5 1073.7L1247.4 1074.0L1248.3 1074.6L1249.2 1075.2L1250.0 1075.5L1250.9 1075.6L1251.8 1075.7L1252.7 1075.8L1253.5 1075.6L1254.4 1075.3L1255.3 1075.1L1256.2 1074.8L1257.0 1074.4L1257.9 1074.1L1258.8 1073.9L1259.7 1074.5L1260.5 1075.2L1261.4 1075.8L1262.3 1075.7L1263.2 1075.4L1264.0 1075.0L1264.9 1074.9L1265.8 1075.7L1266.7 1076.4L1267.5 1077.1L1268.4 1077.4L1269.3 1077.6L1270.2 1077.9L1271.0 1078.0L1271.9 1078.0L1272.8 1077.9L1273.7 1077.9L1274.5 1078.3L1275.4 1078.6L1276.3 1079.0L1277.2 1079.0L1278.0 1078.8L1278.9 1078.6L1279.8 1078.4L1280.7 1078.2L1281.5 1078.0L1282.4 1077.8L1283.3 1077.9L1284.2 1078.0L1285.0 1078.2L1285.9 1078.4L1286.8 1078.9L1287.7 1079.3L1288.5 1079.7L1289.4 1079.1L1290.3 1078.3L1291.2 1077.5L1292.0 1077.3L1292.9 1077.9L1293.8 1078.6L1294.7 1079.2L1295.5 1078.8L1296.4 1078.5L1297.3 1078.1L1298.2 1078.4L1299.0 1079.4L1299.9 1080.3L1300.8 1080.9L1301.7 1080.0L1302.5 1079.1L1303.4 1078.1L1304.3 1077.7L1305.2 1077.6L1306.0 1077.4L1306.9 1077.5L1307.8 1078.4L1308.7 1079.2L1309.5 1080.1L1310.4 1080.2L1311.3 1080.2L1312.2 1080.2L1313.0 1080.1L1313.9 1079.7L1314.8 1079.3L1315.7 1078.9L1316.5 1079.1L1317.4 1079.2L1318.3 1079.4L1319.2 1079.3L1320.0 1079.0L1320.9 1078.7L1321.8 1078.5L1322.7 1078.9L1323.5 1079.2L1324.4 1079.5L1325.3 1079.8L1326.2 1080.1L1327.0 1080.4L1327.9 1080.5L1328.8 1080.4L1329.7 1080.3L1330.5 1080.1L1331.4 1080.1L1332.3 1080.0L1333.2 1079.9L1334.0 1079.8L1334.9 1079.6L1335.8 1079.4L1336.7 1079.2L1337.5 1079.5L1338.4 1079.7L1339.3 1079.8L1340.2 1079.6L1341.0 1079.1L1341.9 1078.7L1342.8 1078.3L1343.7 1077.9L1344.5 1077.9L1345.4 1078.3L1346.3 1078.4L1347.2 1078.4L1348.0 1078.2L1348.9 1078.3L1349.8 1079.0L1350.7 1079.7L1351.5 1080.2L1352.4 1080.2L1353.3 1080.0L1354.2 1079.8L1355.0 1079.7L1355.9 1079.9L1356.8 1080.0L1357.7 1080.2L1358.5 1080.4L1359.4 1080.6L1360.3 1080.8L1361.2 1081.3L1362.0 1081.9L1362.9 1082.5L1363.8 1082.9L1364.7 1082.3L1365.5 1081.7L1366.4 1081.1L1367.3 1080.9L1368.2 1080.8L1369.0 1080.8L1369.9 1080.7L1370.8 1080.6L1371.7 1080.4L1372.5 1080.3L1373.4 1080.6L1374.3 1080.8L1375.2 1081.1L1376.0 1081.1L1376.9 1080.5L1377.8 1079.9L1378.7 1079.4L1379.5 1080.0L1380.4 1080.6L1381.3 1081.2L1382.2 1081.5L1383.0 1081.5L1383.9 1081.6L1384.8 1081.6L1385.7 1081.1L1386.5 1080.7L1387.4 1080.2L1388.3 1080.5L1389.2 1081.2L1390.0 1081.9L1390.9 1082.4L1391.8 1082.6L1392.7 1082.7L1393.5 1082.9L1394.4 1082.3L1395.3 1081.5L1396.2 1080.7L1397.0 1080.5L1397.9 1080.9L1398.8 1081.3L1399.7 1081.7L1400.5 1081.4L1401.4 1081.0L1402.3 1080.7L1403.2 1080.5L1404.0 1080.4L1404.9 1080.3L1405.8 1080.3L1406.7 1080.7L1407.5 1081.1L1408.4 1081.5L1409.3 1081.5L1410.2 1081.3L1411.0 1081.2L1411.9 1080.9L1412.8 1080.5L1413.7 1080.1L1414.5 1079.6L1415.4 1079.5L1416.3 1079.4L1417.2 1079.4L1418.0 1079.5L1418.9 1079.9L1419.8 1080.3L1420.7 1080.8L1421.5 1080.3L1422.4 1079.9L1423.3 1079.4L1424.2 1079.3L1425.0 1079.3L1425.9 1079.3L1426.8 1079.4L1427.7 1079.6L1428.5 1079.9L1429.4 1080.1L1430.3 1080.1L1431.2 1080.0L1432.0 1080.0L1432.9 1080.0L1433.8 1080.2L1434.7 1080.4L1435.5 1080.6L1436.4 1081.0L1437.3 1081.4L1438.2 1081.8L1439.0 1081.6L1439.9 1080.8L1440.8 1079.9L1441.7 1079.0L1442.5 1079.7L1443.4 1080.4L1444.3 1081.1L1445.2 1081.0L1446.0 1080.2L1446.9 1079.5L1447.8 1078.9L1448.7 1079.2L1449.5 1079.6L1450.4 1079.9L1451.3 1080.2L1452.2 1080.4L1453.0 1080.6L1453.9 1080.9L1454.8 1081.2L1455.7 1081.5L1456.5 1081.8L1457.4 1080.9L1458.3 1079.8L1459.2 1078.8L1460.0 1078.5L1460.9 1079.3L1461.8 1080.2L1462.7 1081.0L1463.5 1080.5L1464.4 1080.0L1465.3 1079.5L1466.2 1079.3L1467.0 1079.3L1467.9 1079.3L1468.8 1079.4L1469.7 1079.4L1470.5 1079.5L1471.4 1079.5L1472.3 1079.7L1473.2 1079.9L1474.0 1080.2L1474.9 1080.3L1475.8 1080.2L1476.7 1080.0L1477.5 1079.6L1478.4 1078.5L1479.3 1077.1L1480.2 1075.6L1481.0 1074.3L1481.9 1073.3L1482.8 1072.8L1483.7 1072.9L1484.5 1073.7L1485.4 1074.7L1486.3 1075.6L1487.2 1076.2L1488.0 1076.4L1488.9 1076.5L1489.8 1076.5L1490.7 1076.9L1491.5 1077.2L1492.4 1077.5L1493.3 1078.1L1494.2 1078.8L1495.0 1079.6L1495.9 1079.9L1496.8 1079.2L1497.7 1078.5L1498.5 1077.9L1499.4 1077.9L1500.3 1078.0L1501.2 1078.2L1502.0 1078.4L1502.9 1078.6L1503.8 1078.8L1504.7 1078.9L1505.5 1078.9L1506.4 1078.9L1507.3 1078.9L1508.2 1078.9L1509.0 1078.9L1509.9 1078.8L1510.8 1078.8L1511.7 1078.8L1512.5 1078.8L1513.4 1078.8L1514.3 1078.9L1515.2 1079.0L1516.0 1079.1L1516.9 1079.4L1517.8 1079.9L1518.7 1080.4L1519.5 1081.0L1520.4 1080.9L1521.3 1080.7L1522.2 1080.5L1523.0 1080.3L1523.9 1080.2L1524.8 1080.0L1525.7 1079.9L1526.5 1079.7L1527.4 1079.4L1528.3 1079.2L1529.2 1079.2L1530.0 1079.4L1530.9 1079.6L1531.8 1079.8L1532.7 1079.8L1533.5 1079.8L1534.4 1079.8L1535.3 1079.6L1536.2 1079.2L1537.0 1078.9L1537.9 1078.6L1538.8 1078.4L1539.7 1078.3L1540.5 1078.1L1541.4 1078.2L1542.3 1078.3L1543.2 1078.3L1544.0 1077.8L1544.9 1076.6L1545.8 1075.0L1546.7 1073.0L1547.5 1071.0L1548.4 1069.0L1549.3 1067.8L1550.2 1067.9L1551.0 1069.0L1551.9 1070.0L1552.8 1070.1L1553.7 1068.4L1554.5 1064.4L1555.4 1058.1L1556.3 1050.2L1557.2 1042.8L1558.0 1039.2L1558.9 1041.7L1559.8 1048.9L1560.7 1057.2L1561.5 1064.4L1562.4 1068.9L1563.3 1071.3L1564.2 1072.4L1565.0 1072.8L1565.9 1072.9L1566.8 1072.8L1567.7 1072.8L1568.5 1073.3L1569.4 1073.9L1570.3 1074.5L1571.2 1075.2L1572.0 1075.9L1572.9 1076.7L1573.8 1077.3L1574.7 1077.5L1575.5 1077.6L1576.4 1077.7L1577.3 1077.6L1578.2 1077.2L1579.0 1076.9L1579.9 1076.7L1580.8 1077.3L1581.7 1077.8L1582.5 1078.3L1583.4 1078.7L1584.3 1079.1L1585.2 1079.5L1586.0 1079.7L1586.9 1079.9L1587.8 1080.0L1588.7 1080.1L1589.5 1080.4L1590.4 1080.8L1591.3 1081.1L1592.2 1081.2L1593.0 1081.0L1593.9 1080.8L1594.8 1080.6L1595.7 1080.4L1596.5 1080.2L1597.4 1080.0L1598.3 1080.2L1599.2 1080.5L1600.0 1080.8L1600.9 1080.9L1601.8 1080.5L1602.7 1080.2L1603.5 1079.8L1604.4 1080.1L1605.3 1080.5L1606.2 1081.0L1607.0 1080.9L1607.9 1080.3L1608.8 1079.6L1609.7 1079.0L1610.5 1079.8L1611.4 1080.6L1612.3 1081.4L1613.2 1081.5L1614.0 1081.1L1614.9 1080.7L1615.8 1080.3L1616.7 1080.6L1617.5 1080.9L1618.4 1081.1L1619.3 1081.0L1620.2 1080.7L1621.0 1080.4L1621.9 1080.2L1622.8 1079.9L1623.7 1079.6L1624.5 1079.3L1625.4 1079.5L1626.3 1079.8L1627.2 1080.1L1628.0 1080.3L1628.9 1080.3L1629.8 1080.4L1630.7 1080.4L1631.5 1080.4L1632.4 1080.4L1633.3 1080.3L1634.2 1080.2L1635.0 1080.0L1635.9 1079.7L1636.8 1079.3L1637.7 1079.0L1638.5 1078.6L1639.4 1078.3L1640.3 1077.9L1641.2 1077.6L1642.0 1077.5L1642.9 1077.6L1643.8 1077.7L1644.7 1077.9L1645.5 1078.0L1646.4 1078.5L1647.3 1079.1L1648.2 1079.6L1649.0 1079.8L1649.9 1079.7L1650.8 1079.5L1651.7 1079.3L1652.5 1079.6L1653.4 1080.0L1654.3 1080.3L1655.2 1080.4L1656.0 1080.4L1656.9 1080.4L1657.8 1080.4L1658.7 1080.5L1659.5 1080.6L1660.4 1080.7L1661.3 1080.6L1662.2 1080.5L1663.0 1080.4L1663.9 1080.3L1664.8 1080.6L1665.7 1080.9L1666.5 1081.2L1667.4 1081.3L1668.3 1081.3L1669.2 1081.3L1670.0 1081.3L1670.9 1081.3L1671.8 1081.4L1672.7 1081.4L1673.5 1081.3L1674.4 1081.2L1675.3 1081.2L1676.2 1081.2L1677.0 1081.3L1677.9 1081.4L1678.8 1081.5L1679.7 1081.5L1680.5 1081.6L1681.4 1081.6L1682.3 1081.5L1683.2 1081.3L1684.0 1081.1L1684.9 1080.8L1685.8 1080.2L1686.7 1079.6L1687.5 1079.0L1688.4 1079.3L1689.3 1079.7L1690.2 1080.1L1691.0 1080.6L1691.9 1081.2L1692.8 1081.7L1693.7 1082.3L1694.5 1081.3L1695.4 1080.4L1696.3 1079.4L1697.2 1079.3L1698.0 1079.9L1698.9 1080.5L1699.8 1081.0L1700.7 1080.8L1701.5 1080.6L1702.4 1080.4L1703.3 1080.8L1704.2 1081.3L1705.0 1081.8L1705.9 1082.1L1706.8 1081.8L1707.7 1081.5L1708.5 1081.2L1709.4 1081.0L1710.3 1080.9L1711.2 1080.7L1712.0 1080.6L1712.9 1080.6L1713.8 1080.7L1714.7 1080.7L1715.5 1080.3L1716.4 1079.8L1717.3 1079.3L1718.2 1079.6L1719.0 1080.5L1719.9 1081.2L1720.8 1081.8L1721.7 1081.1L1722.5 1080.3L1723.4 1079.3L1724.3 1078.0L1725.2 1076.5L1726.0 1075.0L1726.9 1073.7L1727.8 1073.3L1728.7 1073.5L1729.5 1074.4L1730.4 1075.8L1731.3 1077.2L1732.2 1078.5L1733.0 1079.3L1733.9 1079.6L1734.8 1079.6L1735.7 1079.6L1736.5 1079.7L1737.4 1079.8L1738.3 1079.8L1739.2 1080.1L1740.0 1080.5L1740.9 1081.0L1741.8 1081.3L1742.7 1081.1L1743.5 1080.9L1744.4 1080.6L1745.3 1080.6L1746.2 1080.8L1747.0 1080.9L1747.9 1081.0L1748.8 1081.2L1749.7 1081.3L1750.5 1081.4L1751.4 1081.0L1752.3 1080.5L1753.2 1080.0L1754.0 1080.0L1754.9 1080.5L1755.8 1081.1L1756.7 1081.6L1757.5 1081.3L1758.4 1081.0L1759.3 1080.5L1760.2 1079.8L1761.0 1078.5L1761.9 1076.5L1762.8 1073.4L1763.7 1069.3L1764.5 1063.8L1765.4 1058.2L1766.3 1055.1L1767.2 1056.6L1768.0 1061.4L1768.9 1066.7L1769.8 1070.5L1770.7 1072.5L1771.5 1072.8L1772.4 1072.3L1773.3 1072.3L1774.2 1073.4L1775.0 1075.0L1775.9 1076.7L1776.8 1077.9L1777.7 1078.7L1778.5 1079.1L1779.4 1079.3L1780.3 1079.4L1781.2 1079.3L1782.0 1079.2L1782.9 1078.9L1783.8 1078.7L1784.7 1078.5L1785.5 1078.2L1786.4 1077.9L1787.3 1077.6L1788.2 1077.3L1789.0 1077.1L1789.9 1076.9L1790.8 1076.9L1791.7 1077.1L1792.5 1077.5L1793.4 1077.4L1794.3 1077.2L1795.2 1077.0L1796.0 1077.2L1796.9 1077.8L1797.8 1078.2L1798.7 1078.6L1799.5 1078.6L1800.4 1078.6L1801.3 1078.4L1802.2 1078.4L1803.0 1078.4L1803.9 1078.5L1804.8 1078.4L1805.7 1078.2L1806.5 1077.9L1807.4 1077.6L1808.3 1077.7L1809.2 1078.0L1810.0 1078.3L1810.9 1078.4L1811.8 1078.2L1812.7 1077.9L1813.5 1077.7L1814.4 1077.4L1815.3 1077.0L1816.2 1076.6L1817.0 1076.6L1817.9 1077.2L1818.8 1077.8L1819.7 1078.5L1820.5 1078.1L1821.4 1077.7L1822.3 1077.4L1823.2 1077.4L1824.0 1077.6L1824.9 1077.8L1825.8 1077.9L1826.7 1077.6L1827.5 1076.9L1828.4 1075.9L1829.3 1074.1L1830.2 1072.0L1831.0 1070.1L1831.9 1069.0L1832.8 1069.4L1833.7 1070.7L1834.5 1072.3L1835.4 1074.0L1836.3 1075.3L1837.2 1076.2L1838.0 1076.7L1838.9 1076.9L1839.8 1077.1L1840.7 1077.3L1841.5 1077.2L1842.4 1077.2L1843.3 1077.3L1844.2 1077.9L1845.0 1078.8L1845.9 1079.7L1846.8 1080.5L1847.7 1080.6L1848.5 1080.7L1849.4 1080.7L1850.3 1080.7L1851.2 1080.6L1852.0 1080.4L1852.9 1080.4L1853.8 1080.9L1854.7 1081.3L1855.5 1081.7L1856.4 1081.6L1857.3 1081.3L1858.2 1081.1L1859.0 1081.1L1859.9 1081.3L1860.8 1081.6L1861.7 1081.8L1862.5 1081.9L1863.4 1081.9L1864.3 1082.0L1865.2 1082.0L1866.0 1082.0L1866.9 1082.0L1867.8 1082.0L1868.7 1082.3L1869.5 1082.6L1870.4 1082.9L1871.3 1082.7L1872.2 1082.4L1873.0 1082.1L1873.9 1081.9L1874.8 1082.0L1875.7 1082.0L1876.5 1082.1L1877.4 1082.0L1878.3 1081.8L1879.2 1081.6L1880.0 1081.4L1880.9 1081.1L1881.8 1080.8L1882.7 1080.5L1883.5 1080.8L1884.4 1081.0L1885.3 1081.2L1886.2 1081.5L1887.0 1081.6L1887.9 1081.8L1888.8 1081.9L1889.7 1081.2L1890.5 1080.5L1891.4 1079.9L1892.3 1080.2L1893.2 1080.9L1894.0 1081.7L1894.9 1082.2L1895.8 1082.2L1896.7 1082.3L1897.5 1082.3L1898.4 1082.5L1899.3 1082.7L1900.2 1082.8L1901.0 1082.9L1901.9 1082.7L1902.8 1082.5L1903.7 1082.3L1904.5 1082.5L1905.4 1082.7L1906.3 1082.8L1907.2 1082.8L1908.0 1082.5L1908.9 1082.2L1909.8 1081.9L1910.7 1081.8L1911.5 1081.7L1912.4 1081.6L1913.3 1081.7L1914.2 1082.0L1915.0 1082.2L1915.9 1082.3L1916.8 1081.8L1917.7 1081.4L1918.5 1081.0L1919.4 1081.5L1920.3 1082.1L1921.2 1082.7L1922.0 1082.7L1922.9 1082.1L1923.8 1081.5L1924.7 1080.8L1925.5 1081.5L1926.4 1082.1L1927.3 1082.8L1928.2 1082.8L1929.0 1082.2L1929.9 1081.7L1930.8 1081.3L1931.7 1081.3L1932.5 1081.3L1933.4 1081.3L1934.3 1081.2L1935.2 1081.0L1936.0 1080.8L1936.9 1080.8L1937.8 1080.9L1938.7 1081.1L1939.5 1081.3L1940.4 1081.4L1941.3 1081.4L1942.2 1081.4L1943.0 1081.1L1943.9 1080.6L1944.8 1079.9L1945.7 1079.2L1946.5 1078.6L1947.4 1078.0L1948.3 1077.1L1949.2 1076.4L1950.0 1075.9L1950.9 1075.5L1951.8 1075.3L1952.7 1074.8L1953.5 1074.8L1954.4 1075.2L1955.3 1076.4L1956.2 1077.9L1957.0 1079.2L1957.9 1080.3L1958.8 1080.9L1959.7 1081.5L1960.5 1081.9L1961.4 1081.7L1962.3 1081.4L1963.2 1081.0L1964.0 1081.3L1964.9 1082.2L1965.8 1083.2L1966.7 1084.2L1967.5 1083.4L1968.4 1082.6L1969.3 1081.8L1970.2 1081.3L1971.0 1081.1L1971.9 1080.8L1972.8 1080.7L1973.7 1081.4L1974.5 1082.2L1975.4 1082.9L1976.3 1082.9L1977.2 1082.5L1978.0 1082.2L1978.9 1081.8L1979.8 1081.6L1980.7 1081.4L1981.5 1081.1L1982.4 1081.2L1983.3 1081.3L1984.2 1081.4L1985.0 1081.6L1985.9 1082.0L1986.8 1082.4L1987.7 1082.7L1988.5 1082.8L1989.4 1082.8L1990.3 1082.9L1991.2 1082.7L1992.0 1082.2L1992.9 1081.8L1993.8 1081.4L1994.7 1081.2L1995.5 1080.9L1996.4 1080.6L1997.3 1080.7L1998.2 1080.8L1999.0 1080.9L1999.9 1081.1L2000.8 1081.4L2001.7 1081.7L2002.5 1082.1L2003.4 1082.0L2004.3 1081.8L2005.2 1081.7L2006.0 1081.7L2006.9 1081.7L2007.8 1081.8L2008.7 1081.9L2009.5 1081.9L2010.4 1082.0L2011.3 1082.0L2012.2 1082.2L2013.0 1082.5L2013.9 1082.8L2014.8 1083.0L2015.7 1082.6L2016.5 1082.1L2017.4 1081.6L2018.3 1081.6L2019.2 1081.6L2020.0 1081.7L2020.9 1081.6L2021.8 1081.1L2022.7 1080.6L2023.5 1080.1L2024.4 1080.5L2025.3 1081.0L2026.2 1081.5L2027.0 1081.7L2027.9 1081.3L2028.8 1080.9L2029.7 1080.5L2030.5 1080.8L2031.4 1081.0L2032.3 1081.3L2033.2 1081.5L2034.0 1081.8L2034.9 1082.0L2035.8 1082.2L2036.7 1082.0L2037.5 1081.8L2038.4 1081.7L2039.3 1081.7L2040.2 1081.9L2041.0 1082.0L2041.9 1082.0L2042.8 1081.4L2043.7 1080.9L2044.5 1080.4L2045.4 1080.7L2046.3 1081.2L2047.2 1081.7L2048.1 1082.0L2048.9 1082.2L2049.8 1082.4L2050.7 1082.5L2051.6 1082.5L2052.4 1082.5L2053.3 1082.4L2054.2 1082.5L2055.1 1082.6L2055.9 1082.7L2056.8 1082.8L2057.7 1082.5L2058.6 1082.3L2059.4 1082.0L2060.3 1082.2L2061.2 1082.5L2062.1 1082.9L2062.9 1083.1L2063.8 1082.8L2064.7 1082.5L2065.6 1082.2L2066.4 1082.2L2067.3 1082.3L2068.2 1082.4L2069.1 1082.6L2069.9 1082.9L2070.8 1083.3L2071.7 1083.6L2072.6 1083.7L2073.4 1083.9" stroke="#ff1720" stroke-width="9.2"/>
<path d="M582.2 882.4L582.5 876.0L584.0 871.0L585.0 862.0L586.9 871.0L588.7 857.0L590.6 869.0L592.5 852.5L594.4 860.0L597.2 843.1L599.0 834.0L600.9 824.3L603.7 815.0L605.1 805.6L606.1 796.2L607.0 782.2L609.4 776.1L612.2 779.4L615.9 781.2L618.7 768.1L620.1 749.4L620.7 735.7L623.2 704.7L628.5 580.5L631.0 518.9L633.9 445.7L636.0 387.1L637.0 343.2L638.0 341.5L639.2 313.9L639.5 291.0L640.4 313.9L642.3 343.2L643.3 387.1L645.3 445.7L646.1 518.9L648.0 580.5L650.8 704.7L651.0 740.0L652.5 768.0L653.9 796.2L655.3 819.6L657.5 820.0L659.9 817.8L662.3 833.7L663.7 847.7L665.6 857.1L668.4 863.7L673.1 862.7L677.7 870.2L678.6 869.2L679.5 868.6L680.3 868.0L681.2 868.0L682.1 868.1L683.0 868.5L683.8 869.0L684.7 869.1L685.6 869.3L686.5 869.5L687.3 869.7L688.2 869.5L689.1 869.3L690.0 870.4L690.8 871.4L691.7 870.4L692.6 869.4L693.5 869.7L694.3 870.0L695.2 869.8L696.1 869.5L697.0 869.4L697.8 869.3L698.7 869.6L699.6 870.0L700.5 870.5L701.3 871.1L702.2 870.1L703.1 869.2L704.0 868.7L704.8 868.2L705.7 868.9L706.6 869.5L707.5 870.4L708.3 871.3L709.2 870.5L710.1 869.7L711.0 870.3L711.8 871.0L712.7 871.7L713.6 872.3L714.5 871.9L715.3 871.6L716.2 870.3L717.1 869.0L718.0 870.2L718.8 871.4L719.7 871.0L720.6 870.5L721.5 870.7L722.3 870.9L723.2 870.5L724.1 870.0L725.0 870.7L725.8 871.4L726.7 871.7L727.6 872.0L728.5 871.3L729.3 870.7L730.2 870.3L731.1 869.8L732.0 869.9L732.8 870.0L733.7 871.4L734.6 872.7L735.5 871.8L736.3 870.9L737.2 870.6L738.1 870.3L739.0 871.0L739.8 871.6L740.7 870.9L741.6 870.1L742.5 870.2L743.3 870.3L744.2 869.9L745.1 869.4L746.0 870.1L746.8 870.7L747.7 870.4L748.6 870.1L749.5 870.7L750.3 871.2L751.2 870.3L752.1 869.4L753.0 869.0L753.8 868.6L754.7 868.1L755.6 867.6L756.5 868.2L757.3 868.7L758.2 867.8L759.1 866.9L760.0 867.0L760.8 866.9L761.7 866.3L762.6 865.7L763.5 866.3L764.3 866.9L765.2 865.3L766.1 863.6L767.0 862.8L767.8 862.1L768.7 862.4L769.6 862.6L770.5 861.9L771.3 861.2L772.2 860.6L773.1 859.9L774.0 859.8L774.8 859.8L775.7 859.0L776.6 858.2L777.5 857.3L778.3 856.4L779.2 856.1L780.1 855.8L781.0 853.5L781.8 851.2L782.7 850.7L783.6 850.2L784.5 847.8L785.3 845.4L786.2 844.0L787.1 842.5L788.0 838.8L788.8 834.8L789.7 833.1L790.6 831.3L791.5 828.7L792.3 825.9L793.2 822.4L794.1 818.7L795.0 814.2L795.8 809.5L796.7 804.8L797.6 800.2L798.5 797.2L799.3 794.6L800.2 791.8L801.1 789.7L802.0 786.4L802.8 784.2L803.7 785.5L804.6 788.0L805.5 790.7L806.3 794.2L807.2 798.1L808.1 802.4L809.0 806.0L809.8 809.8L810.7 815.2L811.6 820.5L812.5 824.7L813.3 828.5L814.2 832.1L815.1 835.3L816.0 839.0L816.8 842.4L817.7 845.1L818.6 847.5L819.5 849.0L820.3 850.3L821.2 853.0L822.1 855.6L823.0 855.8L823.8 855.8L824.7 858.5L825.6 861.1L826.5 860.5L827.3 859.9L828.2 861.9L829.1 863.8L830.0 863.3L830.8 862.6L831.7 864.0L832.6 865.3L833.5 865.9L834.3 866.5L835.2 866.2L836.1 865.8L837.0 866.8L837.8 867.8L838.7 867.3L839.6 866.8L840.5 867.2L841.3 867.7L842.2 868.3L843.1 868.8L844.0 869.0L844.8 869.2L845.7 869.5L846.6 869.8L847.5 870.1L848.3 870.3L849.2 871.4L850.1 872.6L851.0 871.8L851.8 871.0L852.7 870.8L853.6 870.5L854.5 870.6L855.3 870.6L856.2 870.7L857.1 870.8L858.0 871.0L858.8 871.2L859.7 870.9L860.6 870.5L861.5 871.7L862.3 872.9L863.2 872.2L864.1 871.6L865.0 871.1L865.8 870.6L866.7 870.7L867.6 870.8L868.5 871.6L869.3 872.4L870.2 872.2L871.1 872.1L872.0 871.6L872.8 871.2L873.7 871.1L874.6 871.0L875.5 871.0L876.3 871.0L877.2 871.7L878.1 872.3L879.0 872.0L879.8 871.7L880.7 871.1L881.6 870.5L882.5 871.5L883.3 872.5L884.2 871.1L885.1 869.6L886.0 870.5L886.8 871.4L887.7 872.5L888.6 873.6L889.5 873.2L890.3 872.9L891.2 871.5L892.1 870.0L893.0 870.8L893.8 871.5L894.7 871.4L895.6 871.3L896.5 872.2L897.3 873.1L898.2 872.8L899.1 872.5L900.0 873.0L900.8 873.5L901.7 873.1L902.6 872.8L903.5 872.8L904.3 872.7L905.2 871.9L906.1 871.1L907.0 871.3L907.8 871.6L908.7 871.6L909.6 871.5L910.5 871.1L911.3 870.6L912.2 871.9L913.1 873.2L914.0 872.7L914.8 872.2L915.7 871.1L916.6 870.0L917.5 871.3L918.3 872.6L919.2 871.6L920.1 870.6L921.0 871.3L921.8 872.0L922.7 871.2L923.6 870.4L924.5 870.0L925.3 869.6L926.2 869.3L927.1 869.1L928.0 868.6L928.8 868.1L929.7 868.2L930.6 868.3L931.5 867.5L932.3 866.7L933.2 867.4L934.1 868.1L935.0 867.2L935.8 866.3L936.7 866.2L937.6 866.2L938.5 866.3L939.3 866.3L940.2 865.2L941.1 864.0L942.0 863.4L942.8 862.8L943.7 863.8L944.6 864.8L945.5 862.2L946.3 859.5L947.2 858.8L948.1 857.8L949.0 856.9L949.8 855.7L950.7 853.7L951.6 851.5L952.5 848.7L953.3 845.8L954.2 842.8L955.1 839.7L956.0 838.4L956.8 837.3L957.7 835.1L958.6 833.4L959.5 832.3L960.3 832.0L961.2 832.7L962.1 834.1L963.0 836.5L963.8 839.3L964.7 842.0L965.6 844.9L966.5 846.9L967.3 849.0L968.2 851.4L969.1 853.6L970.0 856.1L970.8 858.3L971.7 858.5L972.6 858.5L973.5 861.8L974.3 865.0L975.2 864.7L976.1 864.2L977.0 865.4L977.8 866.6L978.7 867.6L979.6 868.4L980.5 868.5L981.3 868.5L982.2 869.5L983.1 870.5L984.0 871.1L984.8 871.7L985.7 871.0L986.6 870.2L987.5 870.7L988.3 871.1L989.2 871.2L990.1 871.3L991.0 871.7L991.8 872.1L992.7 871.6L993.6 871.1L994.5 871.1L995.3 871.1L996.2 871.1L997.1 871.1L998.0 871.4L998.8 871.6L999.7 872.1L1000.6 872.6L1001.5 871.6L1002.3 870.6L1003.2 871.5L1004.1 872.5L1005.0 872.1L1005.8 871.7L1006.7 871.6L1007.6 871.5L1008.5 870.8L1009.3 870.1L1010.2 870.6L1011.1 871.0L1012.0 872.0L1012.8 873.0L1013.7 872.2L1014.6 871.4L1015.5 872.4L1016.3 873.5L1017.2 872.3L1018.1 871.1L1019.0 870.9L1019.8 870.7L1020.7 871.5L1021.6 872.3L1022.5 871.7L1023.3 871.0L1024.2 871.8L1025.1 872.5L1026.0 872.8L1026.8 873.0L1027.7 872.8L1028.6 872.5L1029.5 872.3L1030.3 872.1L1031.2 871.6L1032.1 871.1L1033.0 871.8L1033.8 872.5L1034.7 872.5L1035.6 872.5L1036.5 872.1L1037.3 871.8L1038.2 871.8L1039.1 871.9L1040.0 871.6L1040.8 871.4L1041.7 871.8L1042.6 872.2L1043.5 872.1L1044.3 872.0L1045.2 871.9L1046.1 871.7L1047.0 872.0L1047.8 872.3L1048.7 872.4L1049.6 872.5L1050.5 872.3L1051.3 872.2L1052.2 872.0L1053.1 871.9L1054.0 871.7L1054.8 871.5L1055.7 872.1L1056.6 872.6L1057.5 872.1L1058.3 871.7L1059.2 872.2L1060.1 872.7L1061.0 872.4L1061.8 872.1L1062.7 872.6L1063.6 873.2L1064.5 872.3L1065.3 871.4L1066.2 871.4L1067.1 871.3L1068.0 871.5L1068.8 871.7L1069.7 871.6L1070.6 871.5L1071.5 871.3L1072.3 871.0L1073.2 871.0L1074.1 871.0L1075.0 871.2L1075.8 871.4L1076.7 871.0L1077.6 870.6L1078.5 869.8L1079.3 869.0L1080.2 869.0L1081.1 869.0L1082.0 869.8L1082.8 870.6L1083.7 869.0L1084.6 867.3L1085.5 866.9L1086.3 866.4L1087.2 865.5L1088.1 864.7L1089.0 864.2L1089.8 863.7L1090.7 863.5L1091.6 863.4L1092.5 863.7L1093.3 863.9L1094.2 863.0L1095.1 862.0L1096.0 861.0L1096.8 859.8L1097.7 858.8L1098.6 857.6L1099.5 856.1L1100.3 854.3L1101.2 851.1L1102.1 847.7L1103.0 846.8L1103.8 845.8L1104.7 841.8L1105.6 837.8L1106.5 836.2L1107.3 834.9L1108.2 833.9L1109.1 833.6L1110.0 833.1L1110.8 833.1L1111.7 833.8L1112.6 834.7L1113.5 835.6L1114.3 836.6L1115.2 837.5L1116.1 838.4L1117.0 841.0L1117.8 843.4L1118.7 844.9L1119.6 845.1L1120.5 839.6L1121.3 827.1L1122.2 807.5L1123.1 785.3L1124.0 776.1L1124.8 790.0L1125.7 814.8L1126.6 835.9L1127.5 848.4L1128.3 854.4L1129.2 857.6L1130.1 859.7L1131.0 859.9L1131.8 860.0L1132.7 861.9L1133.6 863.8L1134.5 863.4L1135.3 862.9L1136.2 863.3L1137.1 863.6L1138.0 864.5L1138.8 865.5L1139.7 866.2L1140.6 866.9L1141.5 867.1L1142.3 867.2L1143.2 867.9L1144.1 868.5L1145.0 868.5L1145.8 868.5L1146.7 868.7L1147.6 868.9L1148.5 869.3L1149.3 869.7L1150.2 869.7L1151.1 869.6L1152.0 870.0L1152.8 870.4L1153.7 870.8L1154.6 871.1L1155.5 870.7L1156.3 870.2L1157.2 872.1L1158.1 873.9L1159.0 872.4L1159.8 870.8L1160.7 871.9L1161.6 872.9L1162.5 873.4L1163.3 873.9L1164.2 873.9L1165.1 873.9L1166.0 874.4L1166.8 874.7L1167.7 873.6L1168.6 872.0L1169.5 869.4L1170.3 865.2L1171.2 860.6L1172.1 857.0L1173.0 857.8L1173.8 862.2L1174.7 866.7L1175.6 869.9L1176.5 870.6L1177.3 870.4L1178.2 871.0L1179.1 871.4L1180.0 870.9L1180.8 870.5L1181.7 869.8L1182.6 869.0L1183.5 868.5L1184.3 867.9L1185.2 868.3L1186.1 868.7L1187.0 868.2L1187.8 867.8L1188.7 866.8L1189.6 865.9L1190.5 866.7L1191.3 867.4L1192.2 867.3L1193.1 867.1L1194.0 866.5L1194.8 865.8L1195.7 864.4L1196.6 863.0L1197.5 862.7L1198.3 862.4L1199.2 861.5L1200.1 860.7L1201.0 860.8L1201.8 861.0L1202.7 860.6L1203.6 860.2L1204.5 860.1L1205.3 860.0L1206.2 859.8L1207.1 859.7L1208.0 860.5L1208.8 861.5L1209.7 861.2L1210.6 861.0L1211.5 861.3L1212.3 861.6L1213.2 862.1L1214.1 862.6L1215.0 863.8L1215.8 865.0L1216.7 864.5L1217.6 864.0L1218.5 864.7L1219.3 865.2L1220.2 864.5L1221.1 863.4L1222.0 862.9L1222.8 859.6L1223.7 848.7L1224.6 828.4L1225.5 801.1L1226.3 781.0L1227.2 787.6L1228.1 813.7L1229.0 837.9L1229.8 853.5L1230.7 861.8L1231.6 865.2L1232.5 867.4L1233.3 868.8L1234.2 869.3L1235.1 869.7L1236.0 869.5L1236.8 869.3L1237.7 869.3L1238.6 869.2L1239.5 869.0L1240.3 868.8L1241.2 868.7L1242.1 868.6L1243.0 868.1L1243.8 867.7L1244.7 867.2L1245.6 866.6L1246.5 867.2L1247.3 867.8L1248.2 866.7L1249.1 865.6L1250.0 865.9L1250.8 866.3L1251.7 866.1L1252.6 865.9L1253.5 865.4L1254.3 864.9L1255.2 864.8L1256.1 864.7L1257.0 864.1L1257.8 863.7L1258.7 864.1L1259.6 864.7L1260.5 865.1L1261.3 865.6L1262.2 866.2L1263.1 866.8L1264.0 867.9L1264.8 869.0L1265.7 868.6L1266.6 868.1L1267.5 869.4L1268.3 870.7L1269.2 871.3L1270.1 871.8L1271.0 871.8L1271.8 871.8L1272.7 872.2L1273.6 872.7L1274.5 871.1L1275.3 869.6L1276.2 871.0L1277.1 872.4L1278.0 872.7L1278.8 873.0L1279.7 873.0L1280.6 873.0L1281.5 873.1L1282.3 873.2L1283.2 873.1L1284.1 873.1L1285.0 873.1L1285.8 873.0L1286.7 873.2L1287.6 873.4L1288.5 873.9L1289.3 874.5L1290.2 873.6L1291.1 872.7L1292.0 873.1L1292.8 873.5L1293.7 874.1L1294.6 874.7L1295.5 874.3L1296.3 873.8L1297.2 873.9L1298.1 874.1L1299.0 873.6L1299.8 873.1L1300.7 873.3L1301.6 873.5L1302.5 874.1L1303.3 874.7L1304.2 873.5L1305.1 872.3L1306.0 873.0L1306.8 873.7L1307.7 874.3L1308.6 875.0L1309.5 875.0L1310.3 874.9L1311.2 874.9L1312.1 874.8L1313.0 874.9L1313.8 875.0L1314.7 873.8L1315.6 872.6L1316.5 872.5L1317.3 872.4L1318.2 873.0L1319.1 873.6L1320.0 873.0L1320.8 872.5L1321.7 872.1L1322.6 871.8L1323.5 872.5L1324.3 873.2L1325.2 873.4L1326.1 873.6L1327.0 873.6L1327.8 873.6L1328.7 873.2L1329.6 872.9L1330.5 872.6L1331.3 872.3L1332.2 873.2L1333.1 874.1L1334.0 873.0L1334.8 872.0L1335.7 871.9L1336.6 871.7L1337.5 871.7L1338.3 871.6L1339.2 871.7L1340.1 871.7L1341.0 871.7L1341.8 871.7L1342.7 871.9L1343.6 872.2L1344.5 871.7L1345.3 871.2L1346.2 871.8L1347.1 872.3L1348.0 872.5L1348.8 872.7L1349.7 872.7L1350.6 872.6L1351.5 872.3L1352.3 872.0L1353.2 871.9L1354.1 871.7L1355.0 872.7L1355.8 873.7L1356.7 872.9L1357.6 872.2L1358.5 872.9L1359.3 873.6L1360.2 873.8L1361.1 874.0L1362.0 872.2L1362.8 870.3L1363.7 871.7L1364.6 873.1L1365.5 872.7L1366.3 872.3L1367.2 871.8L1368.1 871.3L1369.0 872.0L1369.8 872.8L1370.7 872.8L1371.6 872.8L1372.5 872.7L1373.3 872.5L1374.2 872.7L1375.1 873.0L1376.0 872.5L1376.8 872.1L1377.7 872.2L1378.6 872.2L1379.5 873.0L1380.3 873.8L1381.2 873.2L1382.1 872.6L1383.0 872.0L1383.8 871.3L1384.7 870.7L1385.6 870.1L1386.5 870.8L1387.3 871.5L1388.2 871.1L1389.1 870.8L1390.0 871.0L1390.8 871.3L1391.7 871.9L1392.6 872.6L1393.5 872.1L1394.3 871.7L1395.2 871.6L1396.1 871.6L1397.0 871.7L1397.8 871.9L1398.7 872.9L1399.6 873.9L1400.5 873.8L1401.3 873.6L1402.2 873.0L1403.1 872.3L1404.0 872.0L1404.8 871.7L1405.7 872.1L1406.6 872.5L1407.5 871.7L1408.3 870.9L1409.2 870.9L1410.1 870.8L1411.0 871.4L1411.8 872.0L1412.7 871.7L1413.6 871.4L1414.5 871.5L1415.3 871.6L1416.2 871.8L1417.1 872.0L1418.0 872.0L1418.8 872.0L1419.7 872.3L1420.6 872.6L1421.5 871.9L1422.3 871.2L1423.2 871.6L1424.1 872.0L1425.0 872.1L1425.8 872.2L1426.7 872.5L1427.6 872.8L1428.5 872.4L1429.3 872.0L1430.2 871.5L1431.1 871.0L1432.0 870.4L1432.8 869.9L1433.7 870.7L1434.6 871.6L1435.5 871.0L1436.3 870.4L1437.2 871.0L1438.1 871.7L1439.0 871.8L1439.8 871.9L1440.7 871.4L1441.6 870.9L1442.5 871.5L1443.3 872.1L1444.2 872.2L1445.1 872.3L1446.0 871.6L1446.8 870.8L1447.7 871.2L1448.6 871.6L1449.5 871.5L1450.3 871.4L1451.2 870.6L1452.1 869.8L1453.0 870.4L1453.8 871.0L1454.7 871.5L1455.6 872.1L1456.5 871.9L1457.3 871.8L1458.2 872.1L1459.1 872.5L1460.0 871.6L1460.8 870.7L1461.7 871.1L1462.6 871.4L1463.5 871.2L1464.3 871.0L1465.2 871.2L1466.1 871.4L1467.0 871.3L1467.8 871.3L1468.7 871.7L1469.6 872.0L1470.5 872.1L1471.3 872.3L1472.2 872.3L1473.1 872.3L1474.0 871.8L1474.8 871.4L1475.7 871.8L1476.6 872.2L1477.5 871.7L1478.3 871.2L1479.2 871.6L1480.1 872.0L1481.0 872.6L1481.8 873.2L1482.7 873.2L1483.6 873.3L1484.5 872.8L1485.3 872.3L1486.2 871.5L1487.1 870.8L1488.0 871.5L1488.8 872.3L1489.7 872.9L1490.6 873.6L1491.5 873.1L1492.3 872.6L1493.2 872.4L1494.1 872.2L1495.0 872.0L1495.8 871.7L1496.7 871.3L1497.6 870.9L1498.5 870.2L1499.3 869.4L1500.2 869.6L1501.1 869.8L1502.0 869.4L1502.8 869.2L1503.7 870.1L1504.6 871.1L1505.5 871.5L1506.3 871.9L1507.2 871.6L1508.1 871.3L1509.0 871.1L1509.8 871.0L1510.7 871.0L1511.6 871.0L1512.5 871.4L1513.3 871.7L1514.2 872.1L1515.1 872.5L1516.0 872.3L1516.8 872.1L1517.7 870.7L1518.6 869.3L1519.5 870.4L1520.3 871.4L1521.2 872.5L1522.1 873.6L1523.0 872.8L1523.8 872.0L1524.7 872.0L1525.6 872.0L1526.5 872.0L1527.3 872.1L1528.2 871.5L1529.1 871.0L1530.0 870.4L1530.8 870.0L1531.7 871.4L1532.6 872.9L1533.5 871.7L1534.3 870.4L1535.2 871.7L1536.1 873.1L1537.0 872.9L1537.8 872.7L1538.7 872.8L1539.6 873.0L1540.5 872.2L1541.3 871.3L1542.2 871.9L1543.1 872.5L1544.0 871.7L1544.8 870.8L1545.7 870.4L1546.6 870.0L1547.5 869.6L1548.3 869.1L1549.2 868.6L1550.1 867.8L1551.0 866.1L1551.8 863.4L1552.7 859.5L1553.6 852.6L1554.5 842.2L1555.3 829.7L1556.2 822.5L1557.1 829.0L1558.0 841.2L1558.8 851.4L1559.7 859.1L1560.6 863.9L1561.5 865.3L1562.3 865.8L1563.2 866.2L1564.1 866.4L1565.0 867.5L1565.8 868.5L1566.7 867.6L1567.6 866.8L1568.5 866.1L1569.3 865.6L1570.2 866.7L1571.1 867.9L1572.0 868.1L1572.8 868.4L1573.7 869.1L1574.6 869.8L1575.5 870.2L1576.3 870.5L1577.2 870.0L1578.1 869.5L1579.0 870.2L1579.8 870.8L1580.7 871.8L1581.6 872.8L1582.5 871.9L1583.3 871.1L1584.2 871.2L1585.1 871.4L1586.0 871.4L1586.8 871.3L1587.7 871.3L1588.6 871.2L1589.5 871.8L1590.3 872.4L1591.2 872.3L1592.1 872.3L1593.0 872.2L1593.8 872.1L1594.7 872.0L1595.6 872.0L1596.5 871.7L1597.3 871.4L1598.2 872.0L1599.1 872.6L1600.0 872.9L1600.8 873.2L1601.7 873.0L1602.6 872.8L1603.5 872.1L1604.3 871.3L1605.2 871.9L1606.1 872.5L1607.0 872.4L1607.8 872.2L1608.7 872.0L1609.6 871.8L1610.5 871.4L1611.3 871.0L1612.2 871.3L1613.1 871.6L1614.0 871.9L1614.8 872.2L1615.7 872.0L1616.6 871.7L1617.5 871.5L1618.3 871.3L1619.2 871.7L1620.1 872.0L1621.0 871.9L1621.8 871.9L1622.7 871.6L1623.6 871.3L1624.5 872.0L1625.3 872.7L1626.2 872.7L1627.1 872.8L1628.0 872.7L1628.8 872.5L1629.7 871.8L1630.6 871.0L1631.5 872.2L1632.3 873.4L1633.2 873.2L1634.1 873.1L1635.0 872.0L1635.8 870.8L1636.7 871.4L1637.6 872.0L1638.5 872.7L1639.3 873.3L1640.2 873.3L1641.1 873.2L1642.0 871.6L1642.8 870.0L1643.7 870.8L1644.6 871.7L1645.5 871.6L1646.3 871.4L1647.2 871.6L1648.1 871.8L1649.0 872.0L1649.8 872.3L1650.7 872.9L1651.6 873.4L1652.5 873.0L1653.3 872.5L1654.2 872.5L1655.1 872.5L1656.0 871.9L1656.8 871.4L1657.7 872.2L1658.6 872.9L1659.5 872.7L1660.3 872.5L1661.2 872.3L1662.1 872.0L1663.0 872.4L1663.8 872.7L1664.7 872.3L1665.6 871.9L1666.5 871.4L1667.3 870.9L1668.2 871.0L1669.1 871.2L1670.0 872.4L1670.8 873.5L1671.7 873.0L1672.6 872.5L1673.5 872.5L1674.3 872.5L1675.2 873.6L1676.1 874.7L1677.0 873.1L1677.8 871.5L1678.7 871.7L1679.6 872.0L1680.5 871.9L1681.3 871.8L1682.2 871.6L1683.1 871.3L1684.0 871.9L1684.8 872.5L1685.7 872.3L1686.6 872.1L1687.5 872.3L1688.3 872.6L1689.2 871.2L1690.1 869.8L1691.0 871.3L1691.8 872.8L1692.7 872.9L1693.6 872.9L1694.5 873.1L1695.3 873.2L1696.2 872.5L1697.1 871.9L1698.0 872.2L1698.8 872.5L1699.7 871.9L1700.6 871.4L1701.5 870.9L1702.3 870.3L1703.2 872.2L1704.1 874.0L1705.0 873.2L1705.8 872.5L1706.7 872.4L1707.6 872.3L1708.5 872.7L1709.3 873.0L1710.2 872.0L1711.1 871.0L1712.0 871.2L1712.8 871.4L1713.7 872.6L1714.6 873.7L1715.5 873.2L1716.3 872.7L1717.2 873.4L1718.1 874.2L1719.0 873.3L1719.8 872.5L1720.7 873.2L1721.6 873.8L1722.5 873.0L1723.3 872.1L1724.2 872.2L1725.1 872.3L1726.0 872.1L1726.8 871.8L1727.7 872.2L1728.6 872.6L1729.5 872.2L1730.3 871.9L1731.2 871.4L1732.1 870.9L1733.0 870.9L1733.8 871.0L1734.7 871.7L1735.6 872.3L1736.5 871.5L1737.3 870.6L1738.2 870.8L1739.1 871.0L1740.0 870.6L1740.8 870.1L1741.7 870.6L1742.6 871.2L1743.5 870.8L1744.3 870.3L1745.2 870.9L1746.1 871.6L1747.0 871.0L1747.8 870.3L1748.7 870.6L1749.6 870.8L1750.5 869.9L1751.3 869.0L1752.2 869.8L1753.1 870.6L1754.0 869.2L1754.8 867.8L1755.7 869.3L1756.6 870.6L1757.5 869.9L1758.3 868.8L1759.2 868.0L1760.1 866.2L1761.0 861.8L1761.8 856.8L1762.7 854.7L1763.6 855.3L1764.5 857.2L1765.3 860.3L1766.2 864.4L1767.1 867.5L1768.0 868.9L1768.8 869.7L1769.7 870.0L1770.6 870.1L1771.5 870.0L1772.3 869.8L1773.2 871.0L1774.1 872.2L1775.0 872.3L1775.8 872.4L1776.7 872.0L1777.6 871.6L1778.5 872.1L1779.3 872.7L1780.2 872.3L1781.1 872.0L1782.0 871.8L1782.8 871.7L1783.7 871.6L1784.6 871.5L1785.5 872.3L1786.3 873.0L1787.2 872.2L1788.1 871.4L1789.0 871.8L1789.8 872.1L1790.7 872.0L1791.6 871.8L1792.5 871.5L1793.3 871.2L1794.2 871.8L1795.1 872.4L1796.0 871.5L1796.8 870.7L1797.7 871.4L1798.6 872.2L1799.5 870.9L1800.3 869.5L1801.2 870.0L1802.1 870.5L1803.0 870.7L1803.8 870.9L1804.7 871.2L1805.6 871.4L1806.5 871.7L1807.3 872.0L1808.2 871.1L1809.1 870.2L1810.0 870.5L1810.8 870.8L1811.7 870.4L1812.6 870.0L1813.5 870.3L1814.3 870.6L1815.2 870.9L1816.1 871.2L1817.0 871.5L1817.8 871.8L1818.7 871.1L1819.6 870.5L1820.5 870.3L1821.3 870.1L1822.2 869.0L1823.1 867.7L1824.0 868.1L1824.8 868.1L1825.7 866.4L1826.6 863.9L1827.5 861.0L1828.3 857.8L1829.2 856.3L1830.1 857.8L1831.0 860.2L1831.8 862.9L1832.7 865.1L1833.6 866.4L1834.5 866.9L1835.3 867.1L1836.2 867.9L1837.1 868.6L1838.0 868.8L1838.8 869.0L1839.7 869.9L1840.6 870.9L1841.5 870.0L1842.3 869.2L1843.2 870.0L1844.1 870.9L1845.0 871.4L1845.8 871.9L1846.7 871.1L1847.6 870.3L1848.5 869.7L1849.3 869.0L1850.2 869.9L1851.1 870.8L1852.0 871.9L1852.8 872.9L1853.7 872.3L1854.6 871.6L1855.5 871.9L1856.3 872.2L1857.2 872.8L1858.1 873.4L1859.0 873.0L1859.8 872.6L1860.7 871.5L1861.6 870.3L1862.5 872.1L1863.3 873.9L1864.2 872.7L1865.1 871.4L1866.0 872.3L1866.8 873.1L1867.7 873.1L1868.6 873.1L1869.5 873.0L1870.3 872.9L1871.2 872.0L1872.1 871.1L1873.0 872.2L1873.8 873.4L1874.7 872.8L1875.6 872.2L1876.5 871.1L1877.3 870.0L1878.2 870.9L1879.1 871.8L1880.0 871.7L1880.8 871.7L1881.7 872.3L1882.6 872.9L1883.5 871.9L1884.3 871.0L1885.2 870.9L1886.1 870.8L1887.0 871.8L1887.8 872.8L1888.7 873.3L1889.6 873.9L1890.5 873.4L1891.3 872.9L1892.2 872.4L1893.1 871.9L1894.0 872.0L1894.8 872.2L1895.7 872.3L1896.6 872.4L1897.5 872.5L1898.3 872.6L1899.2 873.0L1900.1 873.4L1901.0 872.6L1901.8 871.7L1902.7 872.8L1903.6 873.8L1904.5 874.0L1905.3 874.2L1906.2 873.5L1907.1 872.7L1908.0 873.7L1908.8 874.7L1909.7 873.8L1910.6 872.9L1911.5 872.9L1912.3 872.9L1913.2 873.7L1914.1 874.5L1915.0 873.2L1915.8 871.9L1916.7 873.2L1917.6 874.5L1918.5 873.1L1919.3 871.8L1920.2 872.3L1921.1 872.8L1922.0 873.2L1922.8 873.5L1923.7 873.0L1924.6 872.4L1925.5 872.5L1926.3 872.6L1927.2 872.1L1928.1 871.6L1929.0 872.2L1929.8 872.8L1930.7 873.1L1931.6 873.5L1932.5 873.0L1933.3 872.6L1934.2 873.0L1935.1 873.4L1936.0 872.8L1936.8 872.1L1937.7 872.4L1938.6 872.7L1939.5 872.3L1940.3 871.8L1941.2 872.6L1942.1 873.4L1943.0 872.3L1943.8 871.2L1944.7 871.4L1945.6 871.7L1946.5 872.0L1947.3 872.3L1948.2 871.0L1949.1 869.8L1950.0 871.1L1950.8 872.5L1951.7 872.2L1952.6 871.9L1953.5 871.8L1954.3 871.7L1955.2 871.8L1956.1 871.9L1957.0 872.1L1957.8 872.3L1958.7 871.8L1959.6 871.4L1960.5 871.7L1961.3 872.1L1962.2 871.4L1963.1 870.8L1964.0 871.2L1964.8 871.6L1965.7 872.0L1966.6 872.5L1967.5 872.1L1968.3 871.7L1969.2 872.5L1970.1 873.2L1971.0 872.3L1971.8 871.5L1972.7 871.5L1973.6 871.6L1974.5 872.0L1975.3 872.3L1976.2 872.0L1977.1 871.7L1978.0 872.8L1978.8 873.9L1979.7 873.7L1980.6 873.6L1981.5 872.0L1982.3 870.3L1983.2 871.6L1984.1 872.9L1985.0 872.5L1985.8 872.2L1986.7 872.2L1987.6 872.3L1988.5 872.0L1989.3 871.6L1990.2 872.2L1991.1 872.8L1992.0 872.6L1992.8 872.4L1993.7 872.7L1994.6 873.1L1995.5 872.3L1996.3 871.5L1997.2 871.2L1998.1 871.0L1999.0 871.4L1999.8 871.8L2000.7 871.4L2001.6 870.9L2002.5 871.2L2003.3 871.6L2004.2 872.5L2005.1 873.4L2006.0 872.8L2006.8 872.1L2007.7 872.2L2008.6 872.4L2009.5 873.0L2010.3 873.7L2011.2 873.8L2012.1 873.9L2013.0 872.9L2013.8 872.0L2014.7 871.9L2015.6 871.8L2016.5 872.0L2017.3 872.1L2018.2 871.7L2019.1 871.3L2020.0 872.1L2020.8 872.8L2021.7 872.5L2022.6 872.1L2023.5 872.0L2024.3 872.0L2025.2 872.0L2026.1 872.0L2027.0 871.7L2027.8 871.5L2028.7 872.0L2029.6 872.6L2030.5 871.6L2031.3 870.5L2032.2 870.9L2033.1 871.3L2034.0 870.7L2034.8 870.1L2035.7 870.3L2036.6 870.5L2037.5 870.7L2038.3 870.8L2039.2 871.2L2040.1 871.7L2041.0 871.6L2041.8 871.5L2042.7 872.4L2043.6 873.3L2044.5 872.7L2045.3 872.1L2046.2 871.9L2047.1 871.6L2048.0 871.6L2048.8 871.5L2049.7 871.2L2050.6 870.9L2051.4 871.4L2052.3 872.0L2053.2 872.3L2054.1 872.7L2054.9 872.9L2055.8 873.1L2056.7 873.2L2057.6 873.4L2058.4 872.3L2059.3 871.2L2060.2 870.9L2061.1 870.5L2061.9 871.3L2062.8 872.0L2063.7 871.8L2064.6 871.5L2065.4 871.6L2066.3 871.7L2067.2 872.1L2068.1 872.4L2068.9 872.2L2069.8 872.0L2070.7 871.8L2071.6 871.6L2072.4 871.3L2073.3 871.1" stroke="#2a2d98" stroke-width="9.2"/>
</g>
<!-- tick labels -->
<g class="tk" text-anchor="end">
<text transform="translate(443.5 1340.2) scale(1 1.02)">0</text>
<text transform="translate(443.5 1206.2) scale(1 1.02)">1000</text>
<text transform="translate(443.5 1072.2) scale(1 1.02)">2000</text>
<text transform="translate(443.5 938.2) scale(1 1.02)">3000</text>
<text transform="translate(443.5 804.2) scale(1 1.02)">4000</text>
<text transform="translate(443.5 670.2) scale(1 1.02)">5000</text>
<text transform="translate(443.5 536.2) scale(1 1.02)">6000</text>
<text transform="translate(443.5 402.2) scale(1 1.02)">7000</text>
<text transform="translate(443.5 268.2) scale(1 1.02)">8000</text>
<text transform="translate(443.5 134.2) scale(1 1.02)">9000</text>
</g>
<g class="tk" text-anchor="middle">
<text transform="translate(494.2 1498.5) scale(1 1.02)">0</text>
<text transform="translate(845.1 1498.5) scale(1 1.02)">20</text>
<text transform="translate(1196.1 1498.5) scale(1 1.02)">40</text>
<text transform="translate(1547.0 1498.5) scale(1 1.02)">60</text>
<text transform="translate(1898.0 1498.5) scale(1 1.02)">80</text>
</g>
<!-- axis titles -->
<text class="b" font-size="98" text-anchor="middle" transform="translate(186 713.2) rotate(-90) scale(1 1.04)">Intensity (arb. units)</text>
<text class="b" font-size="98" transform="scale(1 1.04)"><tspan x="894" y="1570.87">2</tspan> <tspan x="970.4" y="1573.08" style="font-family:'Liberation Serif','DejaVu Serif',serif" textLength="53.87" lengthAdjust="spacingAndGlyphs">θ</tspan> <tspan x="1072" y="1570.87">(degrees)</tspan></text>
<circle cx="1045.6" cy="1562.9" r="1.5" fill="#000"/>
<!-- legend -->
<g stroke-width="9.2" stroke-linecap="round" fill="none">
<path d="M1346.5 301.8 H1492" stroke="#000"/>
<path d="M1346.5 401.8 H1492" stroke="#ff1720"/>
<path d="M1346.5 501.6 H1492" stroke="#2a2d98"/>
</g>
<g class="lg">
<text transform="scale(1 1.03)"><tspan font-size="66" x="1510.2" y="315.73">Ti</tspan><tspan font-size="41" x="1564.3" y="337.57">3</tspan><tspan font-size="66" x="1589.4" y="315.73" textLength="103.70" lengthAdjust="spacingAndGlyphs">AlC</tspan><tspan font-size="41" x="1693.5" y="337.57">2</tspan></text>
<text transform="scale(1 1.03)" clip-path="url(#c4)"><tspan font-size="66" x="1510.2" y="412.43">Ti</tspan><tspan font-size="41" x="1564.3" y="434.27">3</tspan><tspan font-size="66" x="1586.9" y="412.43">C</tspan><tspan font-size="41" x="1635.1" y="434.27">2</tspan><tspan font-size="66" x="1657.9" y="412.43">T</tspan><tspan font-size="41" x="1699.7" y="434.27">X</tspan> <tspan font-size="66" x="1742.3" y="412.43" textLength="165.91" lengthAdjust="spacingAndGlyphs">Batch</tspan> <tspan font-size="66" x="1928.8" y="412.43">1</tspan></text>
<text transform="scale(1 1.03)"><tspan font-size="66" x="1510.2" y="509.42">Ti</tspan><tspan font-size="41" x="1564.3" y="531.26">3</tspan><tspan font-size="66" x="1586.9" y="509.42">C</tspan><tspan font-size="41" x="1635.1" y="531.26">2</tspan><tspan font-size="66" x="1657.9" y="509.42">T</tspan><tspan font-size="41" x="1699.7" y="531.26">X</tspan> <tspan font-size="66" x="1742.3" y="509.42" textLength="165.91" lengthAdjust="spacingAndGlyphs">Batch</tspan> <tspan font-size="66" x="1926.7" y="509.42">2</tspan></text>
</g>
<!-- peak labels -->
<g class="pk" text-anchor="middle">
<text transform="translate(647.5 219.8) rotate(-90)">(002)</text>
<text transform="translate(821.1 702.5) rotate(-90)">(004)</text>
<text transform="translate(976.1 747.0) rotate(-90)">(006)</text>
<text transform="translate(1123.0 687.8) rotate(-90)" clip-path="url(#c0)">(103)</text>
<text transform="translate(1186.2 773.5) rotate(-90)" clip-path="url(#c1)">(104)</text>
<text transform="translate(1269.1 699.7) rotate(-90)" clip-path="url(#c2)">(105)</text>
<text transform="translate(1562.9 753.5) rotate(-90)" clip-path="url(#c3)">(110)</text>
</g>
<defs><clipPath id="c0" clipPathUnits="userSpaceOnUse"><path clip-rule="evenodd" d="M-400 -200H400V100H-400ZM-43.12 -5.22H-32.09V1.65H-43.12ZM-27.14 -5.22H-16.17V1.65H-27.14Z"/></clipPath><clipPath id="c1" clipPathUnits="userSpaceOnUse"><path clip-rule="evenodd" d="M-400 -200H400V100H-400ZM-43.12 -5.22H-32.09V1.65H-43.12ZM-27.14 -5.22H-16.17V1.65H-27.14Z"/></clipPath><clipPath id="c2" clipPathUnits="userSpaceOnUse"><path clip-rule="evenodd" d="M-400 -200H400V100H-400ZM-43.12 -5.22H-32.09V1.65H-43.12ZM-27.14 -5.22H-16.17V1.65H-27.14Z"/></clipPath><clipPath id="c3" clipPathUnits="userSpaceOnUse"><path clip-rule="evenodd" d="M-400 -200H400V100H-400ZM-43.12 -5.22H-32.09V1.65H-43.12ZM-27.14 -5.22H-16.17V1.65H-27.14ZM-12.54 -5.22H-1.51V1.65H-12.54ZM3.44 -5.22H14.41V1.65H3.44Z"/></clipPath><clipPath id="c4" clipPathUnits="userSpaceOnUse"><path clip-rule="evenodd" d="M0 0H2136V1708H0ZM1932.10 406.16H1945.33V414.41H1932.10ZM1951.27 406.16H1964.44V414.41H1951.27Z"/></clipPath></defs>
</svg>
</body></html>
